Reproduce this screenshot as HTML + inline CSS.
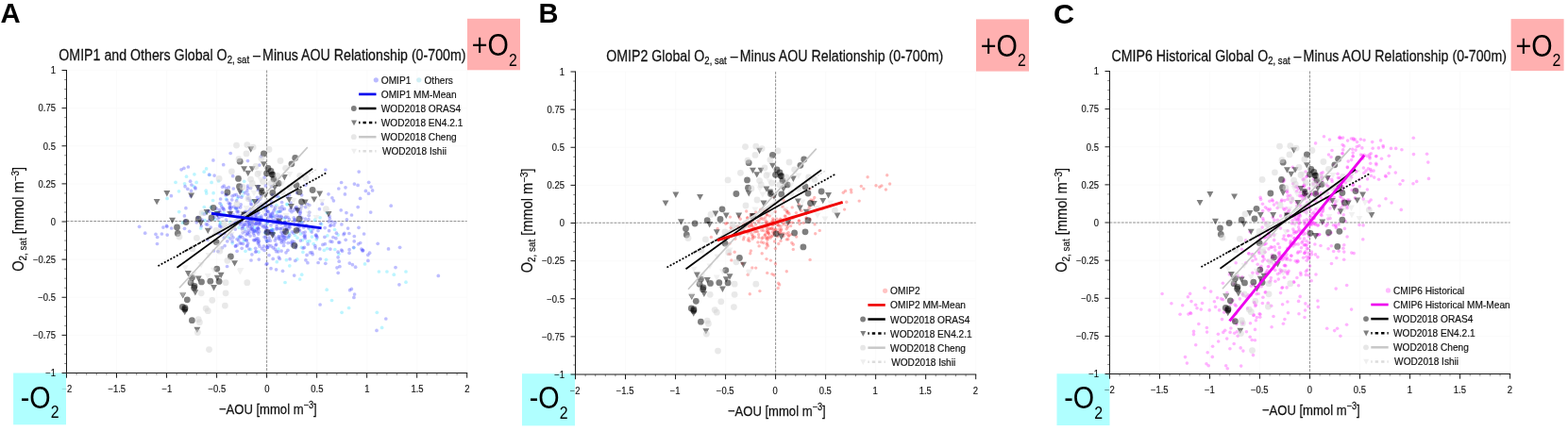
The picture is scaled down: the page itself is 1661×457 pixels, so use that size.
<!DOCTYPE html>
<html lang="en">
<head>
<meta charset="utf-8">
<title>O2,sat - Minus AOU Relationship (0-700m)</title>
<style>
html,body{margin:0;padding:0;background:#fff;}
body{width:1661px;height:457px;overflow:hidden;}
svg{display:block;font-family:"Liberation Sans", Arial, Helvetica, sans-serif;}
</style>
</head>
<body>
<svg width="1661" height="457" viewBox="0 0 1661 457">
<rect width="1661" height="457" fill="#fff"/>
<path d="M123.5 74.5V395.5M176.6 74.5V395.5M229.6 74.5V395.5M335.6 74.5V395.5M388.7 74.5V395.5M441.7 74.5V395.5M494.7 74.5V395.5M70.5 355.4H494.7M70.5 315.2H494.7M70.5 275.1H494.7M70.5 194.9H494.7M70.5 154.8H494.7M70.5 114.6H494.7M70.5 74.5H494.7" stroke="#f9f9f9" stroke-width="0.7" fill="none"/>
<path d="M70.50 234.55H494.70M282.60 74.50V395.50" stroke="#858585" stroke-width="0.9" stroke-dasharray="2.9 1.2" fill="none"/>
<rect x="495" y="19.8" width="56" height="54.5" fill="#ffb0b0"/>
<text transform="translate(523.8 59.4) scale(0.845 1)" font-size="34" fill="#000" text-anchor="middle">+O<tspan font-size="18.8" dy="10.2">2</tspan></text>
<rect x="14.1" y="395.5" width="55.9" height="54.8" fill="#b0ffff"/>
<text transform="translate(42.1 432.6) scale(0.845 1)" font-size="34" fill="#000" text-anchor="middle">-O<tspan font-size="18.8" dy="10.2">2</tspan></text>
<g fill="#5fe6ff" fill-opacity="0.42"><circle cx="295.9" cy="209.6" r="1.85"/><circle cx="312.5" cy="249.4" r="1.85"/><circle cx="306.2" cy="247.4" r="1.85"/><circle cx="281.1" cy="220.0" r="1.85"/><circle cx="330.4" cy="251.1" r="1.85"/><circle cx="217.1" cy="233.7" r="1.85"/><circle cx="282.9" cy="255.5" r="1.85"/><circle cx="374.8" cy="262.8" r="1.85"/><circle cx="233.5" cy="236.7" r="1.85"/><circle cx="346.8" cy="249.8" r="1.85"/><circle cx="276.7" cy="220.7" r="1.85"/><circle cx="243.7" cy="235.6" r="1.85"/><circle cx="260.0" cy="266.3" r="1.85"/><circle cx="236.9" cy="225.9" r="1.85"/><circle cx="239.5" cy="211.0" r="1.85"/><circle cx="288.3" cy="243.7" r="1.85"/><circle cx="306.8" cy="281.8" r="1.85"/><circle cx="283.1" cy="237.1" r="1.85"/><circle cx="319.4" cy="235.6" r="1.85"/><circle cx="275.0" cy="230.0" r="1.85"/><circle cx="303.4" cy="275.7" r="1.85"/><circle cx="250.1" cy="221.5" r="1.85"/><circle cx="281.2" cy="246.9" r="1.85"/><circle cx="287.9" cy="243.4" r="1.85"/><circle cx="293.3" cy="277.7" r="1.85"/><circle cx="246.2" cy="257.8" r="1.85"/><circle cx="289.7" cy="246.8" r="1.85"/><circle cx="265.4" cy="264.3" r="1.85"/><circle cx="234.3" cy="217.0" r="1.85"/><circle cx="251.5" cy="210.1" r="1.85"/><circle cx="302.0" cy="299.5" r="1.85"/><circle cx="267.7" cy="213.0" r="1.85"/><circle cx="233.7" cy="237.8" r="1.85"/><circle cx="281.5" cy="234.3" r="1.85"/><circle cx="343.4" cy="265.3" r="1.85"/><circle cx="303.9" cy="216.4" r="1.85"/><circle cx="304.4" cy="216.8" r="1.85"/><circle cx="274.0" cy="267.2" r="1.85"/><circle cx="193.5" cy="236.2" r="1.85"/><circle cx="257.4" cy="203.5" r="1.85"/><circle cx="295.0" cy="264.0" r="1.85"/><circle cx="238.8" cy="228.2" r="1.85"/><circle cx="320.9" cy="267.3" r="1.85"/><circle cx="293.4" cy="224.9" r="1.85"/><circle cx="289.1" cy="229.4" r="1.85"/><circle cx="218.2" cy="202.2" r="1.85"/><circle cx="226.1" cy="204.7" r="1.85"/><circle cx="339.1" cy="230.8" r="1.85"/><circle cx="264.9" cy="237.6" r="1.85"/><circle cx="314.8" cy="274.9" r="1.85"/><circle cx="318.5" cy="248.0" r="1.85"/><circle cx="319.5" cy="262.3" r="1.85"/><circle cx="301.3" cy="232.0" r="1.85"/><circle cx="288.0" cy="243.2" r="1.85"/><circle cx="227.6" cy="232.5" r="1.85"/><circle cx="253.2" cy="251.4" r="1.85"/><circle cx="265.3" cy="233.3" r="1.85"/><circle cx="270.0" cy="244.8" r="1.85"/><circle cx="315.0" cy="252.2" r="1.85"/><circle cx="296.4" cy="224.3" r="1.85"/><circle cx="241.6" cy="251.2" r="1.85"/><circle cx="253.2" cy="241.2" r="1.85"/><circle cx="259.4" cy="242.6" r="1.85"/><circle cx="333.6" cy="233.2" r="1.85"/><circle cx="258.4" cy="255.5" r="1.85"/><circle cx="346.5" cy="263.6" r="1.85"/><circle cx="320.5" cy="254.6" r="1.85"/><circle cx="256.8" cy="207.5" r="1.85"/><circle cx="292.9" cy="217.5" r="1.85"/><circle cx="233.4" cy="235.8" r="1.85"/><circle cx="340.6" cy="237.7" r="1.85"/><circle cx="258.7" cy="192.3" r="1.85"/><circle cx="225.6" cy="212.5" r="1.85"/><circle cx="212.8" cy="241.9" r="1.85"/><circle cx="269.5" cy="241.2" r="1.85"/><circle cx="189.5" cy="202.8" r="1.85"/><circle cx="231.6" cy="192.0" r="1.85"/><circle cx="208.1" cy="193.4" r="1.85"/><circle cx="216.2" cy="182.2" r="1.85"/><circle cx="205.9" cy="184.8" r="1.85"/><circle cx="230.5" cy="227.5" r="1.85"/><circle cx="195.6" cy="194.8" r="1.85"/><circle cx="177.1" cy="210.4" r="1.85"/><circle cx="229.3" cy="224.8" r="1.85"/><circle cx="218.7" cy="204.9" r="1.85"/><circle cx="222.1" cy="185.5" r="1.85"/><circle cx="189.7" cy="224.6" r="1.85"/><circle cx="216.3" cy="219.5" r="1.85"/><circle cx="224.1" cy="193.4" r="1.85"/><circle cx="218.6" cy="178.9" r="1.85"/><circle cx="214.5" cy="226.1" r="1.85"/><circle cx="218.2" cy="225.5" r="1.85"/><circle cx="186.0" cy="193.3" r="1.85"/><circle cx="205.2" cy="197.6" r="1.85"/><circle cx="197.5" cy="187.2" r="1.85"/><circle cx="223.4" cy="219.7" r="1.85"/><circle cx="335.3" cy="253.9" r="1.85"/><circle cx="354.8" cy="264.5" r="1.85"/><circle cx="328.1" cy="242.8" r="1.85"/><circle cx="329.2" cy="244.9" r="1.85"/><circle cx="305.9" cy="251.3" r="1.85"/><circle cx="354.6" cy="243.5" r="1.85"/><circle cx="332.2" cy="258.6" r="1.85"/><circle cx="327.9" cy="255.7" r="1.85"/><circle cx="345.5" cy="275.3" r="1.85"/><circle cx="358.1" cy="249.1" r="1.85"/><circle cx="358.9" cy="269.3" r="1.85"/><circle cx="325.6" cy="256.1" r="1.85"/><circle cx="401.4" cy="288.0" r="1.85"/><circle cx="409.9" cy="288.0" r="1.85"/><circle cx="417.3" cy="291.2" r="1.85"/><circle cx="430.0" cy="288.0" r="1.85"/><circle cx="430.0" cy="299.2" r="1.85"/><circle cx="346.2" cy="307.2" r="1.85"/><circle cx="351.5" cy="318.5" r="1.85"/><circle cx="362.1" cy="331.3" r="1.85"/><circle cx="369.6" cy="326.5" r="1.85"/><circle cx="399.3" cy="331.3" r="1.85"/><circle cx="404.6" cy="347.4" r="1.85"/><circle cx="319.7" cy="291.2" r="1.85"/><circle cx="317.6" cy="296.0" r="1.85"/><circle cx="386.5" cy="279.9" r="1.85"/><circle cx="346.2" cy="225.4" r="1.85"/></g>
<g fill="#4a4aff" fill-opacity="0.36"><circle cx="281.6" cy="214.7" r="1.85"/><circle cx="244.7" cy="238.2" r="1.85"/><circle cx="288.2" cy="248.0" r="1.85"/><circle cx="264.1" cy="234.8" r="1.85"/><circle cx="256.2" cy="263.3" r="1.85"/><circle cx="235.5" cy="229.3" r="1.85"/><circle cx="260.8" cy="235.4" r="1.85"/><circle cx="292.0" cy="232.1" r="1.85"/><circle cx="256.6" cy="235.6" r="1.85"/><circle cx="285.9" cy="227.0" r="1.85"/><circle cx="303.0" cy="267.8" r="1.85"/><circle cx="268.1" cy="246.0" r="1.85"/><circle cx="334.1" cy="262.8" r="1.85"/><circle cx="292.0" cy="260.0" r="1.85"/><circle cx="323.2" cy="246.1" r="1.85"/><circle cx="254.5" cy="235.7" r="1.85"/><circle cx="302.3" cy="235.7" r="1.85"/><circle cx="259.5" cy="237.9" r="1.85"/><circle cx="266.5" cy="216.8" r="1.85"/><circle cx="285.1" cy="252.1" r="1.85"/><circle cx="270.9" cy="231.2" r="1.85"/><circle cx="247.0" cy="251.8" r="1.85"/><circle cx="298.1" cy="255.4" r="1.85"/><circle cx="330.3" cy="246.1" r="1.85"/><circle cx="264.2" cy="246.3" r="1.85"/><circle cx="242.2" cy="215.2" r="1.85"/><circle cx="263.2" cy="226.9" r="1.85"/><circle cx="251.1" cy="253.5" r="1.85"/><circle cx="263.9" cy="223.6" r="1.85"/><circle cx="331.6" cy="242.7" r="1.85"/><circle cx="288.9" cy="226.0" r="1.85"/><circle cx="293.0" cy="240.4" r="1.85"/><circle cx="269.3" cy="249.8" r="1.85"/><circle cx="263.2" cy="235.4" r="1.85"/><circle cx="265.6" cy="243.0" r="1.85"/><circle cx="250.4" cy="220.7" r="1.85"/><circle cx="286.6" cy="228.1" r="1.85"/><circle cx="247.3" cy="200.0" r="1.85"/><circle cx="326.9" cy="232.6" r="1.85"/><circle cx="267.0" cy="236.1" r="1.85"/><circle cx="311.2" cy="222.9" r="1.85"/><circle cx="317.4" cy="235.9" r="1.85"/><circle cx="240.8" cy="255.8" r="1.85"/><circle cx="287.1" cy="260.9" r="1.85"/><circle cx="275.9" cy="210.9" r="1.85"/><circle cx="219.8" cy="254.2" r="1.85"/><circle cx="298.0" cy="229.4" r="1.85"/><circle cx="236.0" cy="220.6" r="1.85"/><circle cx="302.3" cy="237.1" r="1.85"/><circle cx="280.6" cy="240.9" r="1.85"/><circle cx="302.1" cy="235.6" r="1.85"/><circle cx="271.5" cy="237.0" r="1.85"/><circle cx="284.8" cy="260.0" r="1.85"/><circle cx="296.3" cy="220.5" r="1.85"/><circle cx="283.7" cy="262.4" r="1.85"/><circle cx="243.2" cy="220.4" r="1.85"/><circle cx="220.3" cy="223.3" r="1.85"/><circle cx="291.4" cy="264.2" r="1.85"/><circle cx="246.7" cy="186.7" r="1.85"/><circle cx="302.9" cy="253.2" r="1.85"/><circle cx="262.1" cy="247.4" r="1.85"/><circle cx="287.7" cy="244.9" r="1.85"/><circle cx="276.7" cy="218.1" r="1.85"/><circle cx="281.3" cy="222.1" r="1.85"/><circle cx="293.0" cy="234.6" r="1.85"/><circle cx="339.3" cy="274.6" r="1.85"/><circle cx="256.8" cy="242.2" r="1.85"/><circle cx="264.7" cy="224.8" r="1.85"/><circle cx="243.9" cy="215.8" r="1.85"/><circle cx="251.2" cy="232.9" r="1.85"/><circle cx="299.3" cy="253.8" r="1.85"/><circle cx="292.7" cy="259.1" r="1.85"/><circle cx="296.0" cy="242.3" r="1.85"/><circle cx="272.8" cy="241.4" r="1.85"/><circle cx="335.4" cy="250.5" r="1.85"/><circle cx="275.7" cy="218.1" r="1.85"/><circle cx="262.9" cy="244.5" r="1.85"/><circle cx="304.3" cy="208.7" r="1.85"/><circle cx="261.7" cy="202.4" r="1.85"/><circle cx="218.3" cy="237.7" r="1.85"/><circle cx="270.2" cy="227.4" r="1.85"/><circle cx="265.3" cy="225.0" r="1.85"/><circle cx="275.0" cy="233.3" r="1.85"/><circle cx="323.2" cy="249.5" r="1.85"/><circle cx="302.1" cy="240.0" r="1.85"/><circle cx="294.8" cy="230.1" r="1.85"/><circle cx="257.5" cy="227.2" r="1.85"/><circle cx="271.6" cy="233.9" r="1.85"/><circle cx="293.0" cy="242.9" r="1.85"/><circle cx="295.3" cy="234.1" r="1.85"/><circle cx="281.0" cy="227.7" r="1.85"/><circle cx="319.9" cy="231.0" r="1.85"/><circle cx="301.1" cy="254.3" r="1.85"/><circle cx="285.2" cy="247.9" r="1.85"/><circle cx="271.3" cy="245.1" r="1.85"/><circle cx="309.7" cy="258.0" r="1.85"/><circle cx="243.0" cy="228.5" r="1.85"/><circle cx="313.9" cy="244.5" r="1.85"/><circle cx="327.8" cy="217.5" r="1.85"/><circle cx="324.8" cy="239.0" r="1.85"/><circle cx="262.7" cy="258.0" r="1.85"/><circle cx="273.5" cy="219.1" r="1.85"/><circle cx="267.5" cy="230.2" r="1.85"/><circle cx="253.6" cy="228.9" r="1.85"/><circle cx="270.7" cy="237.4" r="1.85"/><circle cx="260.9" cy="249.0" r="1.85"/><circle cx="257.1" cy="240.8" r="1.85"/><circle cx="312.2" cy="238.1" r="1.85"/><circle cx="233.6" cy="211.0" r="1.85"/><circle cx="296.3" cy="229.1" r="1.85"/><circle cx="293.3" cy="242.3" r="1.85"/><circle cx="274.3" cy="275.1" r="1.85"/><circle cx="273.4" cy="253.2" r="1.85"/><circle cx="298.1" cy="266.1" r="1.85"/><circle cx="322.4" cy="262.4" r="1.85"/><circle cx="259.5" cy="204.7" r="1.85"/><circle cx="282.9" cy="219.5" r="1.85"/><circle cx="285.0" cy="270.6" r="1.85"/><circle cx="276.9" cy="229.1" r="1.85"/><circle cx="293.2" cy="235.1" r="1.85"/><circle cx="262.8" cy="248.1" r="1.85"/><circle cx="322.4" cy="250.2" r="1.85"/><circle cx="286.0" cy="244.5" r="1.85"/><circle cx="255.0" cy="202.8" r="1.85"/><circle cx="293.5" cy="228.4" r="1.85"/><circle cx="254.7" cy="219.8" r="1.85"/><circle cx="249.9" cy="237.3" r="1.85"/><circle cx="262.5" cy="199.4" r="1.85"/><circle cx="256.5" cy="242.7" r="1.85"/><circle cx="265.1" cy="212.8" r="1.85"/><circle cx="269.0" cy="244.4" r="1.85"/><circle cx="234.4" cy="248.5" r="1.85"/><circle cx="266.1" cy="234.5" r="1.85"/><circle cx="316.5" cy="224.7" r="1.85"/><circle cx="268.7" cy="254.5" r="1.85"/><circle cx="262.6" cy="240.8" r="1.85"/><circle cx="333.8" cy="260.6" r="1.85"/><circle cx="273.9" cy="225.3" r="1.85"/><circle cx="275.8" cy="235.6" r="1.85"/><circle cx="266.7" cy="238.0" r="1.85"/><circle cx="247.1" cy="227.6" r="1.85"/><circle cx="272.9" cy="226.6" r="1.85"/><circle cx="309.6" cy="255.7" r="1.85"/><circle cx="237.3" cy="222.4" r="1.85"/><circle cx="289.1" cy="233.5" r="1.85"/><circle cx="294.7" cy="235.8" r="1.85"/><circle cx="299.9" cy="237.0" r="1.85"/><circle cx="327.7" cy="225.2" r="1.85"/><circle cx="292.7" cy="266.7" r="1.85"/><circle cx="286.3" cy="244.9" r="1.85"/><circle cx="274.3" cy="255.4" r="1.85"/><circle cx="274.8" cy="175.1" r="1.85"/><circle cx="317.6" cy="239.8" r="1.85"/><circle cx="289.7" cy="236.2" r="1.85"/><circle cx="330.5" cy="267.7" r="1.85"/><circle cx="267.3" cy="235.2" r="1.85"/><circle cx="232.6" cy="238.9" r="1.85"/><circle cx="280.1" cy="188.2" r="1.85"/><circle cx="301.0" cy="257.1" r="1.85"/><circle cx="281.4" cy="238.4" r="1.85"/><circle cx="256.5" cy="230.0" r="1.85"/><circle cx="302.4" cy="238.6" r="1.85"/><circle cx="207.0" cy="200.0" r="1.85"/><circle cx="359.8" cy="257.0" r="1.85"/><circle cx="306.5" cy="232.6" r="1.85"/><circle cx="288.5" cy="206.5" r="1.85"/><circle cx="255.2" cy="216.9" r="1.85"/><circle cx="275.1" cy="236.9" r="1.85"/><circle cx="272.8" cy="213.9" r="1.85"/><circle cx="264.7" cy="239.9" r="1.85"/><circle cx="244.3" cy="226.3" r="1.85"/><circle cx="281.5" cy="251.0" r="1.85"/><circle cx="295.7" cy="251.4" r="1.85"/><circle cx="361.9" cy="237.9" r="1.85"/><circle cx="263.9" cy="237.4" r="1.85"/><circle cx="251.3" cy="223.7" r="1.85"/><circle cx="266.0" cy="276.0" r="1.85"/><circle cx="288.0" cy="230.1" r="1.85"/><circle cx="237.3" cy="197.0" r="1.85"/><circle cx="237.9" cy="247.7" r="1.85"/><circle cx="344.2" cy="241.6" r="1.85"/><circle cx="281.2" cy="221.3" r="1.85"/><circle cx="284.4" cy="234.6" r="1.85"/><circle cx="324.1" cy="239.3" r="1.85"/><circle cx="293.7" cy="234.4" r="1.85"/><circle cx="267.2" cy="236.5" r="1.85"/><circle cx="271.4" cy="235.7" r="1.85"/><circle cx="259.6" cy="224.4" r="1.85"/><circle cx="295.2" cy="250.5" r="1.85"/><circle cx="230.5" cy="228.3" r="1.85"/><circle cx="252.7" cy="224.7" r="1.85"/><circle cx="295.4" cy="253.3" r="1.85"/><circle cx="277.4" cy="232.4" r="1.85"/><circle cx="260.9" cy="254.5" r="1.85"/><circle cx="297.3" cy="242.7" r="1.85"/><circle cx="231.0" cy="266.5" r="1.85"/><circle cx="267.1" cy="243.6" r="1.85"/><circle cx="267.4" cy="242.9" r="1.85"/><circle cx="272.5" cy="209.3" r="1.85"/><circle cx="271.0" cy="228.0" r="1.85"/><circle cx="268.6" cy="247.5" r="1.85"/><circle cx="264.6" cy="237.5" r="1.85"/><circle cx="303.6" cy="243.1" r="1.85"/><circle cx="288.2" cy="226.4" r="1.85"/><circle cx="280.9" cy="246.4" r="1.85"/><circle cx="240.4" cy="212.0" r="1.85"/><circle cx="245.1" cy="219.5" r="1.85"/><circle cx="283.0" cy="245.0" r="1.85"/><circle cx="290.0" cy="223.5" r="1.85"/><circle cx="275.0" cy="261.2" r="1.85"/><circle cx="279.4" cy="261.1" r="1.85"/><circle cx="273.9" cy="256.3" r="1.85"/><circle cx="316.8" cy="243.3" r="1.85"/><circle cx="280.1" cy="265.4" r="1.85"/><circle cx="262.5" cy="197.0" r="1.85"/><circle cx="325.7" cy="216.5" r="1.85"/><circle cx="299.4" cy="249.8" r="1.85"/><circle cx="283.3" cy="262.4" r="1.85"/><circle cx="244.1" cy="221.2" r="1.85"/><circle cx="301.5" cy="246.7" r="1.85"/><circle cx="323.3" cy="252.6" r="1.85"/><circle cx="251.0" cy="259.9" r="1.85"/><circle cx="293.2" cy="237.7" r="1.85"/><circle cx="252.6" cy="208.6" r="1.85"/><circle cx="292.4" cy="252.5" r="1.85"/><circle cx="267.0" cy="240.6" r="1.85"/><circle cx="291.0" cy="221.5" r="1.85"/><circle cx="232.6" cy="222.5" r="1.85"/><circle cx="286.9" cy="229.2" r="1.85"/><circle cx="334.4" cy="249.4" r="1.85"/><circle cx="314.5" cy="204.5" r="1.85"/><circle cx="260.1" cy="230.6" r="1.85"/><circle cx="282.1" cy="280.2" r="1.85"/><circle cx="262.7" cy="206.1" r="1.85"/><circle cx="302.4" cy="230.6" r="1.85"/><circle cx="257.4" cy="258.5" r="1.85"/><circle cx="255.8" cy="209.2" r="1.85"/><circle cx="273.8" cy="237.0" r="1.85"/><circle cx="255.5" cy="258.0" r="1.85"/><circle cx="279.5" cy="219.4" r="1.85"/><circle cx="317.6" cy="228.7" r="1.85"/><circle cx="289.2" cy="274.4" r="1.85"/><circle cx="282.0" cy="254.1" r="1.85"/><circle cx="269.5" cy="254.8" r="1.85"/><circle cx="249.3" cy="243.1" r="1.85"/><circle cx="269.4" cy="245.0" r="1.85"/><circle cx="291.6" cy="219.7" r="1.85"/><circle cx="273.7" cy="242.6" r="1.85"/><circle cx="318.1" cy="226.0" r="1.85"/><circle cx="259.0" cy="238.3" r="1.85"/><circle cx="271.9" cy="252.9" r="1.85"/><circle cx="308.2" cy="257.4" r="1.85"/><circle cx="270.8" cy="230.3" r="1.85"/><circle cx="302.9" cy="229.8" r="1.85"/><circle cx="258.3" cy="229.7" r="1.85"/><circle cx="250.3" cy="235.7" r="1.85"/><circle cx="284.5" cy="230.3" r="1.85"/><circle cx="282.7" cy="224.5" r="1.85"/><circle cx="318.5" cy="221.6" r="1.85"/><circle cx="302.6" cy="245.0" r="1.85"/><circle cx="320.8" cy="236.0" r="1.85"/><circle cx="245.7" cy="211.8" r="1.85"/><circle cx="254.2" cy="258.0" r="1.85"/><circle cx="302.1" cy="249.9" r="1.85"/><circle cx="309.0" cy="224.7" r="1.85"/><circle cx="275.2" cy="236.7" r="1.85"/><circle cx="265.0" cy="250.1" r="1.85"/><circle cx="305.1" cy="257.6" r="1.85"/><circle cx="266.8" cy="228.7" r="1.85"/><circle cx="265.6" cy="216.0" r="1.85"/><circle cx="318.4" cy="255.1" r="1.85"/><circle cx="274.1" cy="258.8" r="1.85"/><circle cx="297.3" cy="224.0" r="1.85"/><circle cx="250.6" cy="212.8" r="1.85"/><circle cx="278.9" cy="240.6" r="1.85"/><circle cx="249.0" cy="236.9" r="1.85"/><circle cx="272.9" cy="213.4" r="1.85"/><circle cx="290.0" cy="249.8" r="1.85"/><circle cx="281.7" cy="227.6" r="1.85"/><circle cx="266.9" cy="231.8" r="1.85"/><circle cx="262.1" cy="260.4" r="1.85"/><circle cx="305.3" cy="240.0" r="1.85"/><circle cx="304.9" cy="265.3" r="1.85"/><circle cx="313.6" cy="260.1" r="1.85"/><circle cx="284.0" cy="255.4" r="1.85"/><circle cx="276.4" cy="207.9" r="1.85"/><circle cx="286.7" cy="217.3" r="1.85"/><circle cx="270.5" cy="254.1" r="1.85"/><circle cx="286.3" cy="255.2" r="1.85"/><circle cx="256.7" cy="251.7" r="1.85"/><circle cx="243.6" cy="219.6" r="1.85"/><circle cx="339.5" cy="237.0" r="1.85"/><circle cx="234.8" cy="240.8" r="1.85"/><circle cx="249.5" cy="261.0" r="1.85"/><circle cx="270.7" cy="263.3" r="1.85"/><circle cx="263.9" cy="264.0" r="1.85"/><circle cx="356.4" cy="247.2" r="1.85"/><circle cx="214.1" cy="233.0" r="1.85"/><circle cx="256.9" cy="230.4" r="1.85"/><circle cx="290.7" cy="229.2" r="1.85"/><circle cx="231.6" cy="247.6" r="1.85"/><circle cx="264.9" cy="228.2" r="1.85"/><circle cx="323.7" cy="219.6" r="1.85"/><circle cx="223.3" cy="241.0" r="1.85"/><circle cx="230.9" cy="225.7" r="1.85"/><circle cx="287.5" cy="213.6" r="1.85"/><circle cx="274.5" cy="230.7" r="1.85"/><circle cx="239.1" cy="206.7" r="1.85"/><circle cx="252.7" cy="255.0" r="1.85"/><circle cx="327.2" cy="228.6" r="1.85"/><circle cx="307.2" cy="240.7" r="1.85"/><circle cx="310.9" cy="247.1" r="1.85"/><circle cx="319.6" cy="218.4" r="1.85"/><circle cx="309.4" cy="245.8" r="1.85"/><circle cx="287.8" cy="218.6" r="1.85"/><circle cx="321.0" cy="246.8" r="1.85"/><circle cx="287.3" cy="229.9" r="1.85"/><circle cx="266.3" cy="242.1" r="1.85"/><circle cx="273.0" cy="242.1" r="1.85"/><circle cx="266.9" cy="236.2" r="1.85"/><circle cx="299.2" cy="241.9" r="1.85"/><circle cx="273.6" cy="197.7" r="1.85"/><circle cx="295.0" cy="235.4" r="1.85"/><circle cx="235.4" cy="262.7" r="1.85"/><circle cx="328.5" cy="267.9" r="1.85"/><circle cx="287.6" cy="197.8" r="1.85"/><circle cx="271.2" cy="215.0" r="1.85"/><circle cx="283.0" cy="279.5" r="1.85"/><circle cx="348.2" cy="234.9" r="1.85"/><circle cx="273.2" cy="257.7" r="1.85"/><circle cx="246.1" cy="255.9" r="1.85"/><circle cx="250.3" cy="206.4" r="1.85"/><circle cx="300.6" cy="260.5" r="1.85"/><circle cx="254.6" cy="250.3" r="1.85"/><circle cx="254.0" cy="251.8" r="1.85"/><circle cx="257.5" cy="230.8" r="1.85"/><circle cx="291.4" cy="254.9" r="1.85"/><circle cx="270.7" cy="267.2" r="1.85"/><circle cx="287.7" cy="245.7" r="1.85"/><circle cx="259.1" cy="253.9" r="1.85"/><circle cx="231.0" cy="231.9" r="1.85"/><circle cx="315.2" cy="221.6" r="1.85"/><circle cx="232.6" cy="230.2" r="1.85"/><circle cx="306.0" cy="242.7" r="1.85"/><circle cx="299.7" cy="246.9" r="1.85"/><circle cx="236.5" cy="221.3" r="1.85"/><circle cx="276.9" cy="230.8" r="1.85"/><circle cx="283.5" cy="223.9" r="1.85"/><circle cx="254.8" cy="238.1" r="1.85"/><circle cx="281.3" cy="196.9" r="1.85"/><circle cx="268.1" cy="237.9" r="1.85"/><circle cx="221.9" cy="224.5" r="1.85"/><circle cx="312.9" cy="233.1" r="1.85"/><circle cx="305.4" cy="251.2" r="1.85"/><circle cx="271.0" cy="237.5" r="1.85"/><circle cx="301.4" cy="251.3" r="1.85"/><circle cx="299.3" cy="221.8" r="1.85"/><circle cx="300.2" cy="251.3" r="1.85"/><circle cx="221.3" cy="233.9" r="1.85"/><circle cx="240.0" cy="206.4" r="1.85"/><circle cx="282.6" cy="261.8" r="1.85"/><circle cx="268.6" cy="223.5" r="1.85"/><circle cx="252.9" cy="230.2" r="1.85"/><circle cx="248.2" cy="206.9" r="1.85"/><circle cx="312.9" cy="220.3" r="1.85"/><circle cx="274.6" cy="245.7" r="1.85"/><circle cx="292.5" cy="208.4" r="1.85"/><circle cx="249.5" cy="260.9" r="1.85"/><circle cx="277.9" cy="239.2" r="1.85"/><circle cx="284.7" cy="247.0" r="1.85"/><circle cx="323.5" cy="232.2" r="1.85"/><circle cx="306.8" cy="249.4" r="1.85"/><circle cx="296.6" cy="253.2" r="1.85"/><circle cx="259.8" cy="226.4" r="1.85"/><circle cx="298.3" cy="257.2" r="1.85"/><circle cx="295.4" cy="224.3" r="1.85"/><circle cx="277.2" cy="232.8" r="1.85"/><circle cx="289.5" cy="243.7" r="1.85"/><circle cx="271.4" cy="266.5" r="1.85"/><circle cx="233.2" cy="240.4" r="1.85"/><circle cx="298.8" cy="218.8" r="1.85"/><circle cx="274.2" cy="235.3" r="1.85"/><circle cx="294.7" cy="266.8" r="1.85"/><circle cx="277.1" cy="216.5" r="1.85"/><circle cx="308.3" cy="220.5" r="1.85"/><circle cx="311.6" cy="256.5" r="1.85"/><circle cx="266.0" cy="234.3" r="1.85"/><circle cx="259.6" cy="245.4" r="1.85"/><circle cx="307.1" cy="274.7" r="1.85"/><circle cx="313.2" cy="262.7" r="1.85"/><circle cx="321.8" cy="241.2" r="1.85"/><circle cx="296.3" cy="274.4" r="1.85"/><circle cx="208.2" cy="235.8" r="1.85"/><circle cx="318.3" cy="224.7" r="1.85"/><circle cx="245.4" cy="249.2" r="1.85"/><circle cx="321.1" cy="263.1" r="1.85"/><circle cx="247.7" cy="235.5" r="1.85"/><circle cx="303.6" cy="242.9" r="1.85"/><circle cx="243.9" cy="252.9" r="1.85"/><circle cx="289.3" cy="262.7" r="1.85"/><circle cx="227.1" cy="230.0" r="1.85"/><circle cx="240.6" cy="282.5" r="1.85"/><circle cx="266.9" cy="269.8" r="1.85"/><circle cx="370.3" cy="279.1" r="1.85"/><circle cx="311.7" cy="232.8" r="1.85"/><circle cx="244.0" cy="224.2" r="1.85"/><circle cx="349.7" cy="239.5" r="1.85"/><circle cx="298.6" cy="214.5" r="1.85"/><circle cx="339.1" cy="323.0" r="1.85"/><circle cx="323.8" cy="196.3" r="1.85"/><circle cx="257.6" cy="238.9" r="1.85"/><circle cx="233.0" cy="215.5" r="1.85"/><circle cx="257.2" cy="246.8" r="1.85"/><circle cx="283.6" cy="235.3" r="1.85"/><circle cx="325.9" cy="278.7" r="1.85"/><circle cx="281.6" cy="215.6" r="1.85"/><circle cx="248.0" cy="219.4" r="1.85"/><circle cx="262.5" cy="170.6" r="1.85"/><circle cx="274.1" cy="212.0" r="1.85"/><circle cx="273.8" cy="211.8" r="1.85"/><circle cx="181.4" cy="207.7" r="1.85"/><circle cx="265.1" cy="233.6" r="1.85"/><circle cx="367.4" cy="232.8" r="1.85"/><circle cx="299.5" cy="287.3" r="1.85"/><circle cx="292.6" cy="285.8" r="1.85"/><circle cx="351.8" cy="256.4" r="1.85"/><circle cx="349.0" cy="229.3" r="1.85"/><circle cx="381.7" cy="257.5" r="1.85"/><circle cx="255.8" cy="196.9" r="1.85"/><circle cx="229.4" cy="221.2" r="1.85"/><circle cx="282.1" cy="241.3" r="1.85"/><circle cx="213.3" cy="239.5" r="1.85"/><circle cx="254.0" cy="235.3" r="1.85"/><circle cx="271.3" cy="243.7" r="1.85"/><circle cx="271.9" cy="230.3" r="1.85"/><circle cx="249.7" cy="220.6" r="1.85"/><circle cx="262.8" cy="210.4" r="1.85"/><circle cx="382.9" cy="264.0" r="1.85"/><circle cx="366.2" cy="254.3" r="1.85"/><circle cx="359.9" cy="282.6" r="1.85"/><circle cx="294.6" cy="207.8" r="1.85"/><circle cx="251.2" cy="224.8" r="1.85"/><circle cx="195.5" cy="242.3" r="1.85"/><circle cx="419.0" cy="283.6" r="1.85"/><circle cx="308.0" cy="215.0" r="1.85"/><circle cx="147.6" cy="240.3" r="1.85"/><circle cx="234.7" cy="218.9" r="1.85"/><circle cx="317.5" cy="244.8" r="1.85"/><circle cx="375.3" cy="250.5" r="1.85"/><circle cx="294.9" cy="234.5" r="1.85"/><circle cx="261.4" cy="261.1" r="1.85"/><circle cx="200.7" cy="245.3" r="1.85"/><circle cx="226.4" cy="266.0" r="1.85"/><circle cx="261.3" cy="255.1" r="1.85"/><circle cx="282.6" cy="256.1" r="1.85"/><circle cx="422.9" cy="301.8" r="1.85"/><circle cx="284.2" cy="224.5" r="1.85"/><circle cx="374.9" cy="315.4" r="1.85"/><circle cx="341.9" cy="259.4" r="1.85"/><circle cx="325.1" cy="270.4" r="1.85"/><circle cx="235.4" cy="204.1" r="1.85"/><circle cx="237.4" cy="252.2" r="1.85"/><circle cx="281.6" cy="244.4" r="1.85"/><circle cx="380.0" cy="241.3" r="1.85"/><circle cx="280.1" cy="251.3" r="1.85"/><circle cx="198.8" cy="200.3" r="1.85"/><circle cx="235.7" cy="198.3" r="1.85"/><circle cx="238.1" cy="260.6" r="1.85"/><circle cx="314.3" cy="222.3" r="1.85"/><circle cx="336.0" cy="251.8" r="1.85"/><circle cx="265.5" cy="199.5" r="1.85"/><circle cx="206.8" cy="198.8" r="1.85"/><circle cx="301.3" cy="221.4" r="1.85"/><circle cx="253.1" cy="236.7" r="1.85"/><circle cx="202.0" cy="207.8" r="1.85"/><circle cx="338.4" cy="221.7" r="1.85"/><circle cx="304.9" cy="230.4" r="1.85"/><circle cx="384.0" cy="265.0" r="1.85"/><circle cx="344.8" cy="279.3" r="1.85"/><circle cx="414.2" cy="218.2" r="1.85"/><circle cx="297.4" cy="237.5" r="1.85"/><circle cx="216.5" cy="226.9" r="1.85"/><circle cx="251.1" cy="266.3" r="1.85"/><circle cx="273.7" cy="248.1" r="1.85"/><circle cx="256.0" cy="228.9" r="1.85"/><circle cx="370.6" cy="307.7" r="1.85"/><circle cx="353.8" cy="238.8" r="1.85"/><circle cx="261.4" cy="224.7" r="1.85"/><circle cx="408.8" cy="338.0" r="1.85"/><circle cx="326.2" cy="258.9" r="1.85"/><circle cx="326.8" cy="241.8" r="1.85"/><circle cx="295.3" cy="272.8" r="1.85"/><circle cx="343.9" cy="251.3" r="1.85"/><circle cx="282.8" cy="241.9" r="1.85"/><circle cx="277.5" cy="263.7" r="1.85"/><circle cx="311.9" cy="234.1" r="1.85"/><circle cx="251.3" cy="236.4" r="1.85"/><circle cx="262.8" cy="233.9" r="1.85"/><circle cx="399.0" cy="350.4" r="1.85"/><circle cx="287.0" cy="284.7" r="1.85"/><circle cx="372.5" cy="228.0" r="1.85"/><circle cx="464.3" cy="292.4" r="1.85"/><circle cx="233.1" cy="224.5" r="1.85"/><circle cx="239.6" cy="233.0" r="1.85"/><circle cx="375.2" cy="255.8" r="1.85"/><circle cx="196.9" cy="220.7" r="1.85"/><circle cx="219.8" cy="238.2" r="1.85"/><circle cx="366.9" cy="225.6" r="1.85"/><circle cx="192.1" cy="179.8" r="1.85"/><circle cx="312.8" cy="276.4" r="1.85"/><circle cx="361.7" cy="265.0" r="1.85"/><circle cx="252.2" cy="220.0" r="1.85"/><circle cx="379.6" cy="258.8" r="1.85"/><circle cx="287.0" cy="238.9" r="1.85"/><circle cx="288.9" cy="246.7" r="1.85"/><circle cx="250.5" cy="229.2" r="1.85"/><circle cx="271.8" cy="254.8" r="1.85"/><circle cx="262.4" cy="238.3" r="1.85"/><circle cx="423.6" cy="262.3" r="1.85"/><circle cx="307.1" cy="222.9" r="1.85"/><circle cx="298.0" cy="246.3" r="1.85"/><circle cx="274.4" cy="238.4" r="1.85"/><circle cx="311.7" cy="292.1" r="1.85"/><circle cx="166.7" cy="251.5" r="1.85"/><circle cx="311.3" cy="230.8" r="1.85"/><circle cx="265.2" cy="221.7" r="1.85"/><circle cx="242.3" cy="198.7" r="1.85"/><circle cx="276.5" cy="165.9" r="1.85"/><circle cx="352.9" cy="251.5" r="1.85"/><circle cx="309.4" cy="260.3" r="1.85"/><circle cx="273.4" cy="201.4" r="1.85"/><circle cx="331.2" cy="269.7" r="1.85"/><circle cx="243.3" cy="216.9" r="1.85"/><circle cx="272.5" cy="245.9" r="1.85"/><circle cx="273.8" cy="242.4" r="1.85"/><circle cx="374.7" cy="262.3" r="1.85"/><circle cx="298.4" cy="249.8" r="1.85"/><circle cx="319.6" cy="206.8" r="1.85"/><circle cx="246.1" cy="207.8" r="1.85"/><circle cx="323.9" cy="275.8" r="1.85"/><circle cx="306.5" cy="239.8" r="1.85"/><circle cx="365.4" cy="205.9" r="1.85"/><circle cx="393.1" cy="198.1" r="1.85"/><circle cx="351.9" cy="209.8" r="1.85"/><circle cx="358.8" cy="200.0" r="1.85"/><circle cx="348.0" cy="205.8" r="1.85"/><circle cx="387.4" cy="202.4" r="1.85"/><circle cx="353.4" cy="212.8" r="1.85"/><circle cx="375.4" cy="195.1" r="1.85"/><circle cx="390.5" cy="205.2" r="1.85"/><circle cx="344.8" cy="180.0" r="1.85"/><circle cx="379.1" cy="196.4" r="1.85"/><circle cx="379.2" cy="219.6" r="1.85"/><circle cx="366.0" cy="198.8" r="1.85"/><circle cx="394.6" cy="201.9" r="1.85"/><circle cx="306.6" cy="206.8" r="1.85"/><circle cx="380.2" cy="182.1" r="1.85"/><circle cx="392.7" cy="225.1" r="1.85"/><circle cx="390.7" cy="193.3" r="1.85"/><circle cx="361.6" cy="193.5" r="1.85"/><circle cx="381.6" cy="210.4" r="1.85"/><circle cx="209.7" cy="230.6" r="1.85"/><circle cx="153.7" cy="247.2" r="1.85"/><circle cx="176.5" cy="239.3" r="1.85"/><circle cx="166.5" cy="258.5" r="1.85"/><circle cx="181.7" cy="242.0" r="1.85"/><circle cx="171.4" cy="248.0" r="1.85"/><circle cx="176.8" cy="240.3" r="1.85"/><circle cx="177.2" cy="249.1" r="1.85"/><circle cx="195.4" cy="228.9" r="1.85"/><circle cx="165.0" cy="248.3" r="1.85"/><circle cx="196.4" cy="234.1" r="1.85"/><circle cx="172.9" cy="241.1" r="1.85"/><circle cx="202.9" cy="196.0" r="1.85"/><circle cx="194.9" cy="178.4" r="1.85"/><circle cx="236.7" cy="174.7" r="1.85"/><circle cx="196.1" cy="197.7" r="1.85"/><circle cx="225.9" cy="169.9" r="1.85"/><circle cx="221.6" cy="185.2" r="1.85"/><circle cx="244.2" cy="162.5" r="1.85"/><circle cx="202.5" cy="202.4" r="1.85"/><circle cx="239.5" cy="199.6" r="1.85"/><circle cx="199.4" cy="177.0" r="1.85"/><circle cx="201.6" cy="192.2" r="1.85"/><circle cx="227.1" cy="186.1" r="1.85"/><circle cx="358.7" cy="257.1" r="1.85"/><circle cx="349.9" cy="255.9" r="1.85"/><circle cx="337.1" cy="278.5" r="1.85"/><circle cx="357.0" cy="283.8" r="1.85"/><circle cx="369.9" cy="247.5" r="1.85"/><circle cx="355.9" cy="252.7" r="1.85"/><circle cx="361.2" cy="222.8" r="1.85"/><circle cx="385.6" cy="248.0" r="1.85"/><circle cx="389.9" cy="276.4" r="1.85"/><circle cx="349.9" cy="264.1" r="1.85"/><circle cx="354.9" cy="236.0" r="1.85"/><circle cx="384.0" cy="265.9" r="1.85"/><circle cx="358.2" cy="289.3" r="1.85"/><circle cx="358.1" cy="267.2" r="1.85"/><circle cx="322.7" cy="251.2" r="1.85"/><circle cx="315.7" cy="241.2" r="1.85"/><circle cx="314.2" cy="219.7" r="1.85"/><circle cx="349.4" cy="231.8" r="1.85"/><circle cx="341.3" cy="216.2" r="1.85"/><circle cx="315.6" cy="237.5" r="1.85"/><circle cx="375.6" cy="312.0" r="1.85"/><circle cx="368.6" cy="242.1" r="1.85"/><circle cx="348.6" cy="244.7" r="1.85"/><circle cx="362.5" cy="266.2" r="1.85"/><circle cx="364.8" cy="247.4" r="1.85"/><circle cx="400.2" cy="258.3" r="1.85"/><circle cx="389.8" cy="270.3" r="1.85"/><circle cx="370.1" cy="264.7" r="1.85"/><circle cx="376.6" cy="283.2" r="1.85"/><circle cx="358.1" cy="272.8" r="1.85"/><circle cx="298.7" cy="230.6" r="1.85"/><circle cx="370.0" cy="268.3" r="1.85"/><circle cx="372.4" cy="306.4" r="1.85"/><circle cx="364.0" cy="248.7" r="1.85"/><circle cx="391.6" cy="268.2" r="1.85"/><circle cx="384.7" cy="265.6" r="1.85"/><circle cx="350.5" cy="238.7" r="1.85"/><circle cx="344.3" cy="258.7" r="1.85"/><circle cx="335.0" cy="249.2" r="1.85"/><circle cx="351.6" cy="235.0" r="1.85"/><circle cx="359.2" cy="277.2" r="1.85"/><circle cx="338.7" cy="263.9" r="1.85"/><circle cx="373.4" cy="280.7" r="1.85"/><circle cx="337.0" cy="244.6" r="1.85"/><circle cx="411.5" cy="263.9" r="1.85"/></g>
<g fill="#000" fill-opacity="0.5"><circle cx="279.4" cy="162.9" r="3.4"/><circle cx="254.2" cy="171.2" r="3.4"/><circle cx="252.5" cy="189.4" r="3.4"/><circle cx="253.5" cy="197.7" r="3.4"/><circle cx="240.9" cy="204.0" r="3.4"/><circle cx="226.0" cy="220.3" r="3.4"/><circle cx="210.2" cy="232.2" r="3.4"/><circle cx="224.0" cy="230.9" r="3.4"/><circle cx="197.1" cy="235.5" r="3.4"/><circle cx="187.5" cy="241.0" r="3.4"/><circle cx="188.3" cy="247.5" r="3.4"/><circle cx="283.2" cy="246.3" r="3.4"/><circle cx="288.2" cy="185.1" r="3.4"/><circle cx="312.7" cy="167.5" r="3.4"/><circle cx="308.9" cy="173.8" r="3.4"/><circle cx="282.5" cy="183.8" r="3.4"/><circle cx="288.8" cy="185.1" r="3.4"/><circle cx="290.0" cy="190.1" r="3.4"/><circle cx="295.1" cy="194.4" r="3.4"/><circle cx="277.4" cy="204.0" r="3.4"/><circle cx="288.8" cy="204.5" r="3.4"/><circle cx="314.0" cy="196.4" r="3.4"/><circle cx="317.0" cy="203.5" r="3.4"/><circle cx="331.1" cy="201.5" r="3.4"/><circle cx="319.5" cy="214.0" r="3.4"/><circle cx="317.0" cy="232.2" r="3.4"/><circle cx="258.6" cy="227.9" r="3.4"/><circle cx="302.6" cy="245.5" r="3.4"/><circle cx="314.0" cy="244.3" r="3.4"/><circle cx="311.9" cy="260.4" r="3.4"/><circle cx="229.1" cy="256.6" r="3.4"/><circle cx="244.4" cy="272.0" r="3.4"/><circle cx="229.8" cy="285.1" r="3.4"/><circle cx="203.4" cy="294.4" r="3.4"/><circle cx="213.5" cy="298.9" r="3.4"/><circle cx="222.8" cy="298.2" r="3.4"/><circle cx="232.1" cy="298.4" r="3.4"/><circle cx="202.1" cy="299.7" r="3.4"/><circle cx="205.6" cy="305.2" r="3.4"/><circle cx="198.3" cy="317.8" r="3.4"/><circle cx="193.3" cy="325.4" r="3.4"/><circle cx="195.8" cy="327.9" r="3.4"/><circle cx="203.4" cy="339.7" r="3.4"/><circle cx="284.0" cy="178.5" r="3.4"/><circle cx="287.0" cy="181.5" r="3.4"/><circle cx="206.0" cy="303.5" r="3.4"/><circle cx="196.0" cy="326.5" r="3.4"/></g>
<path d="M162.7 210.9h6.9l-3.45 6.4zM173.4 202.1h6.9l-3.45 6.4zM199.2 204.4h6.9l-3.45 6.4zM179.1 230.8h6.9l-3.45 6.4zM215.6 222.0h6.9l-3.45 6.4zM226.8 224.0h6.9l-3.45 6.4zM240.3 224.0h6.9l-3.45 6.4zM255.1 224.5h6.9l-3.45 6.4zM209.3 233.6h6.9l-3.45 6.4zM216.8 241.7h6.9l-3.45 6.4zM250.8 200.6h6.9l-3.45 6.4zM255.1 176.2h6.9l-3.45 6.4zM263.7 176.2h6.9l-3.45 6.4zM259.3 180.7h6.9l-3.45 6.4zM262.2 155.3h6.9l-3.45 6.4zM266.7 210.9h6.9l-3.45 6.4zM273.4 200.1h6.9l-3.45 6.4zM275.9 171.2h6.9l-3.45 6.4zM297.9 185.0h6.9l-3.45 6.4zM272.8 198.9h6.9l-3.45 6.4zM266.4 210.9h6.9l-3.45 6.4zM302.9 208.9h6.9l-3.45 6.4zM304.9 216.0h6.9l-3.45 6.4zM311.8 220.3h6.9l-3.45 6.4zM319.8 211.4h6.9l-3.45 6.4zM329.3 208.4h6.9l-3.45 6.4zM335.2 202.6h6.9l-3.45 6.4zM344.6 224.0h6.9l-3.45 6.4zM292.3 231.6h6.9l-3.45 6.4zM285.3 246.7h6.9l-3.45 6.4zM245.1 276.2h6.9l-3.45 6.4zM195.9 287.0h6.9l-3.45 6.4zM206.8 292.6h6.9l-3.45 6.4zM230.7 288.8h6.9l-3.45 6.4zM226.8 291.8h6.9l-3.45 6.4zM223.1 302.1h6.9l-3.45 6.4zM203.4 307.2h6.9l-3.45 6.4zM190.3 310.2h6.9l-3.45 6.4zM192.3 327.8h6.9l-3.45 6.4zM205.4 346.7h6.9l-3.45 6.4zM284.8 245.9h6.9l-3.45 6.4zM269.6 195.9h6.9l-3.45 6.4zM277.6 203.9h6.9l-3.45 6.4zM287.6 195.9h6.9l-3.45 6.4z" fill="#000" fill-opacity="0.5"/>
<g fill="#d3d3d3" fill-opacity="0.5"><circle cx="250.5" cy="154.1" r="3.4"/><circle cx="261.8" cy="153.6" r="3.4"/><circle cx="268.1" cy="156.1" r="3.4"/><circle cx="261.0" cy="162.9" r="3.4"/><circle cx="253.0" cy="168.7" r="3.4"/><circle cx="276.9" cy="168.0" r="3.4"/><circle cx="245.4" cy="181.8" r="3.4"/><circle cx="232.1" cy="189.4" r="3.4"/><circle cx="265.6" cy="190.1" r="3.4"/><circle cx="267.3" cy="194.4" r="3.4"/><circle cx="214.0" cy="225.9" r="3.4"/><circle cx="302.6" cy="178.3" r="3.4"/><circle cx="317.7" cy="186.3" r="3.4"/><circle cx="293.8" cy="186.3" r="3.4"/><circle cx="278.7" cy="192.6" r="3.4"/><circle cx="324.0" cy="188.9" r="3.4"/><circle cx="345.4" cy="221.6" r="3.4"/><circle cx="190.0" cy="251.1" r="3.4"/><circle cx="208.4" cy="252.4" r="3.4"/><circle cx="203.9" cy="263.7" r="3.4"/><circle cx="232.8" cy="266.2" r="3.4"/><circle cx="240.9" cy="276.3" r="3.4"/><circle cx="261.8" cy="299.7" r="3.4"/><circle cx="239.1" cy="299.7" r="3.4"/><circle cx="239.1" cy="310.8" r="3.4"/><circle cx="213.2" cy="310.8" r="3.4"/><circle cx="224.8" cy="318.3" r="3.4"/><circle cx="238.4" cy="324.1" r="3.4"/><circle cx="218.2" cy="327.1" r="3.4"/><circle cx="220.3" cy="329.7" r="3.4"/><circle cx="210.2" cy="338.7" r="3.4"/><circle cx="211.4" cy="341.7" r="3.4"/><circle cx="209.4" cy="352.6" r="3.4"/><circle cx="221.5" cy="370.6" r="3.4"/><circle cx="271.0" cy="176.5" r="3.4"/><circle cx="257.0" cy="198.5" r="3.4"/><circle cx="273.0" cy="184.5" r="3.4"/><circle cx="287.0" cy="194.5" r="3.4"/><circle cx="299.0" cy="203.5" r="3.4"/><circle cx="307.0" cy="198.5" r="3.4"/><circle cx="263.0" cy="210.5" r="3.4"/><circle cx="251.0" cy="216.5" r="3.4"/><circle cx="237.0" cy="236.5" r="3.4"/><circle cx="229.0" cy="244.5" r="3.4"/><circle cx="297.0" cy="170.5" r="3.4"/><circle cx="285.0" cy="158.5" r="3.4"/></g>
<path d="M270.9 180.7h6.9l-3.45 6.4zM192.8 281.2h6.9l-3.45 6.4zM216.8 290.0h6.9l-3.45 6.4zM223.1 283.7h6.9l-3.45 6.4zM230.7 261.1h6.9l-3.45 6.4zM250.8 285.0h6.9l-3.45 6.4zM190.3 308.9h6.9l-3.45 6.4zM271.4 180.7h6.9l-3.45 6.4zM323.1 216.5h6.9l-3.45 6.4zM251.6 283.9h6.9l-3.45 6.4zM234.6 235.9h6.9l-3.45 6.4zM247.6 231.9h6.9l-3.45 6.4zM257.6 217.9h6.9l-3.45 6.4zM265.6 201.9h6.9l-3.45 6.4zM279.6 210.9h6.9l-3.45 6.4zM289.6 217.9h6.9l-3.45 6.4zM299.6 225.9h6.9l-3.45 6.4zM307.6 209.9h6.9l-3.45 6.4zM315.6 217.9h6.9l-3.45 6.4zM323.6 223.9h6.9l-3.45 6.4zM331.6 227.9h6.9l-3.45 6.4zM272.6 187.9h6.9l-3.45 6.4zM262.6 195.9h6.9l-3.45 6.4zM241.6 245.9h6.9l-3.45 6.4zM227.6 257.9h6.9l-3.45 6.4zM217.6 267.9h6.9l-3.45 6.4zM209.6 277.9h6.9l-3.45 6.4zM201.6 287.9h6.9l-3.45 6.4zM197.6 295.9h6.9l-3.45 6.4zM253.6 241.9h6.9l-3.45 6.4zM263.6 233.9h6.9l-3.45 6.4zM275.6 221.9h6.9l-3.45 6.4zM285.6 207.9h6.9l-3.45 6.4zM295.6 191.9h6.9l-3.45 6.4zM303.6 181.9h6.9l-3.45 6.4zM337.6 210.9h6.9l-3.45 6.4z" fill="#dcdcdc" fill-opacity="0.4"/>
<line x1="190.0" y1="305.2" x2="325.8" y2="156.1" stroke="#c8c8c8" stroke-width="1.6" stroke-linecap="butt"/>
<line x1="187.0" y1="272.5" x2="197.8" y2="265.8" stroke="#dedede" stroke-width="1.6" stroke-dasharray="2 1.7" stroke-linecap="butt"/>
<line x1="197.8" y1="265.8" x2="224.3" y2="249.2" stroke="#dedede" stroke-width="1.6" stroke-dasharray="4 1.2" stroke-linecap="butt"/>
<line x1="224.3" y1="249.2" x2="314.4" y2="192.7" stroke="#dedede" stroke-width="1.6" stroke-linecap="butt"/>
<line x1="314.4" y1="192.7" x2="335.5" y2="179.5" stroke="#dedede" stroke-width="1.6" stroke-dasharray="2 1.7" stroke-linecap="butt"/>
<line x1="187.5" y1="283.8" x2="331.1" y2="178.8" stroke="#000" stroke-width="1.7" stroke-linecap="butt"/>
<line x1="167.4" y1="282.1" x2="195.6" y2="266.5" stroke="#000" stroke-width="1.7" stroke-dasharray="2 1.7" stroke-linecap="butt"/>
<line x1="195.6" y1="266.5" x2="221.1" y2="252.4" stroke="#000" stroke-width="1.7" stroke-dasharray="4 1.2" stroke-linecap="butt"/>
<line x1="221.1" y1="252.4" x2="314.4" y2="200.7" stroke="#000" stroke-width="1.7" stroke-linecap="butt"/>
<line x1="314.4" y1="200.7" x2="346.2" y2="183.1" stroke="#000" stroke-width="1.7" stroke-dasharray="2 1.7" stroke-linecap="butt"/>
<line x1="223.9" y1="226.3" x2="340.6" y2="241.9" stroke="#0000ee" stroke-width="2.9" stroke-linecap="butt"/>
<path d="M81.11 395.50v2.3M91.71 395.50v2.3M102.32 395.50v2.3M112.92 395.50v2.3M134.13 395.50v2.3M144.74 395.50v2.3M155.34 395.50v2.3M165.95 395.50v2.3M187.16 395.50v2.3M197.76 395.50v2.3M208.37 395.50v2.3M218.97 395.50v2.3M240.18 395.50v2.3M250.79 395.50v2.3M261.39 395.50v2.3M272.00 395.50v2.3M293.21 395.50v2.3M303.81 395.50v2.3M314.42 395.50v2.3M325.02 395.50v2.3M346.23 395.50v2.3M356.84 395.50v2.3M367.44 395.50v2.3M378.05 395.50v2.3M399.25 395.50v2.3M409.86 395.50v2.3M420.47 395.50v2.3M431.07 395.50v2.3M452.28 395.50v2.3M462.89 395.50v2.3M473.49 395.50v2.3M484.10 395.50v2.3M70.50 385.47h-2.3M70.50 375.44h-2.3M70.50 365.41h-2.3M70.50 345.34h-2.3M70.50 335.31h-2.3M70.50 325.28h-2.3M70.50 305.22h-2.3M70.50 295.19h-2.3M70.50 285.16h-2.3M70.50 265.09h-2.3M70.50 255.06h-2.3M70.50 245.03h-2.3M70.50 224.97h-2.3M70.50 214.94h-2.3M70.50 204.91h-2.3M70.50 184.84h-2.3M70.50 174.81h-2.3M70.50 164.78h-2.3M70.50 144.72h-2.3M70.50 134.69h-2.3M70.50 124.66h-2.3M70.50 104.59h-2.3M70.50 94.56h-2.3M70.50 84.53h-2.3" stroke="#555" stroke-width="0.7" fill="none"/>
<path d="M70.50 74.00V395.50H495.20M70.50 395.50v5.2M123.53 395.50v5.2M176.55 395.50v5.2M229.58 395.50v5.2M282.60 395.50v5.2M335.62 395.50v5.2M388.65 395.50v5.2M441.68 395.50v5.2M494.70 395.50v5.2M70.50 395.50h-5M70.50 355.38h-5M70.50 315.25h-5M70.50 275.12h-5M70.50 235.00h-5M70.50 194.88h-5M70.50 154.75h-5M70.50 114.62h-5M70.50 74.50h-5" stroke="#1a1a1a" stroke-width="1" fill="none"/>
<g font-size="10.3" fill="#111" stroke="#111" stroke-width="0.15"><text transform="translate(70.8 416.0) scale(0.92 1)" text-anchor="middle"><tspan fill="#8fd0d0" stroke="none">−</tspan>2</text><text transform="translate(123.8 416.0) scale(0.92 1)" text-anchor="middle">−1.5</text><text transform="translate(176.9 416.0) scale(0.92 1)" text-anchor="middle">−1</text><text transform="translate(229.9 416.0) scale(0.92 1)" text-anchor="middle">−0.5</text><text transform="translate(282.9 416.0) scale(0.92 1)" text-anchor="middle">0</text><text transform="translate(335.9 416.0) scale(0.92 1)" text-anchor="middle">0.5</text><text transform="translate(389.0 416.0) scale(0.92 1)" text-anchor="middle">1</text><text transform="translate(442.0 416.0) scale(0.92 1)" text-anchor="middle">1.5</text><text transform="translate(495.0 416.0) scale(0.92 1)" text-anchor="middle">2</text><text transform="translate(59.0 399.3) scale(0.92 1)" text-anchor="end">−1</text><text transform="translate(59.0 359.2) scale(0.92 1)" text-anchor="end">−0.75</text><text transform="translate(59.0 319.1) scale(0.92 1)" text-anchor="end">−0.5</text><text transform="translate(59.0 278.9) scale(0.92 1)" text-anchor="end">−0.25</text><text transform="translate(59.0 238.8) scale(0.92 1)" text-anchor="end">0</text><text transform="translate(59.0 198.7) scale(0.92 1)" text-anchor="end">0.25</text><text transform="translate(59.0 158.6) scale(0.92 1)" text-anchor="end">0.5</text><text transform="translate(59.0 118.4) scale(0.92 1)" text-anchor="end">0.75</text><text transform="translate(59.0 78.3) scale(0.92 1)" text-anchor="end">1</text></g>
<text transform="translate(62.3 63.8) scale(0.826 1)" font-size="17.2" fill="#111" stroke="#111" stroke-width="0.25">OMIP1 and Others Global O<tspan font-size="11.6" dy="3">2, sat</tspan><tspan dy="-3"> –</tspan><tspan dx="-2.2"> Minus AOU Relationship (0-700m)</tspan></text>
<text transform="translate(283.8 438.7) scale(0.855 1)" font-size="15.3" fill="#111" stroke="#111" stroke-width="0.25" text-anchor="middle">−AOU [mmol m<tspan font-size="10.8" dy="-5.8">−3</tspan><tspan dy="5.8">]</tspan></text>
<text transform="translate(25.2 232.4) rotate(-90) scale(0.935 1)" font-size="15.6" fill="#111" stroke="#111" stroke-width="0.2" text-anchor="middle">O<tspan font-size="10.6" dy="2.6">2, sat</tspan><tspan dy="-2.6"> [mmol m</tspan><tspan font-size="10.6" dy="-5.6">−3</tspan><tspan dy="5.6">]</tspan></text>
<text transform="translate(0.4 24.4) scale(0.985 1)" font-size="29.8" font-weight="bold" fill="#000">A</text>
<circle cx="398.3" cy="84.8" r="2.6" fill="#4a4aff" fill-opacity="0.38"/>
<circle cx="443.8" cy="84.8" r="2.6" fill="#8fd8e8" fill-opacity="0.42"/>
<line x1="380.1" y1="99.9" x2="398.5" y2="99.9" stroke="#0000ee" stroke-width="2.7"/>
<circle cx="374.8" cy="115.0" r="2.9" fill="#000" fill-opacity="0.5"/>
<line x1="380.1" y1="115.0" x2="398.5" y2="115.0" stroke="#000" stroke-width="2.5"/>
<path d="M372.0 127.5h6l-3 5.8z" fill="#000" fill-opacity="0.5"/>
<line x1="380.1" y1="130.1" x2="398.5" y2="130.1" stroke="#000" stroke-width="2.5" stroke-dasharray="3.4 3" stroke-dashoffset="2"/>
<circle cx="374.8" cy="145.2" r="2.9" fill="#cfcfcf" fill-opacity="0.5"/>
<line x1="380.1" y1="145.2" x2="398.5" y2="145.2" stroke="#c8c8c8" stroke-width="2.5"/>
<path d="M372.0 157.7h6l-3 5.8z" fill="#d8d8d8" fill-opacity="0.4"/>
<line x1="380.1" y1="160.3" x2="398.5" y2="160.3" stroke="#dcdcdc" stroke-width="2.5" stroke-dasharray="3.4 3" stroke-dashoffset="2"/>
<g font-size="11.75" fill="#111" stroke="#111" stroke-width="0.2"><text transform="translate(449.5 88.8) scale(0.862 1)">Others</text><text transform="translate(403.8 88.8) scale(0.862 1)">OMIP1</text><text transform="translate(403.8 103.9) scale(0.862 1)">OMIP1 MM-Mean</text><text transform="translate(403.8 119.0) scale(0.862 1)">WOD2018 ORAS4</text><text transform="translate(403.8 134.1) scale(0.862 1)">WOD2018 EN4.2.1</text><text transform="translate(403.8 149.2) scale(0.862 1)">WOD2018 Cheng</text><text transform="translate(404.90000000000003 164.3) scale(0.862 1)">WOD2018 Ishii</text></g>
<path d="M662.5 76.0V397.0M715.6 76.0V397.0M768.6 76.0V397.0M874.6 76.0V397.0M927.6 76.0V397.0M980.7 76.0V397.0M1033.7 76.0V397.0M609.5 356.9H1033.7M609.5 316.8H1033.7M609.5 276.6H1033.7M609.5 196.4H1033.7M609.5 156.2H1033.7M609.5 116.1H1033.7M609.5 76.0H1033.7" stroke="#f9f9f9" stroke-width="0.7" fill="none"/>
<path d="M609.50 236.25H1033.70M821.60 76.00V397.00" stroke="#858585" stroke-width="0.9" stroke-dasharray="2.9 1.2" fill="none"/>
<rect x="1034" y="20.4" width="56" height="55.2" fill="#ffb0b0"/>
<text transform="translate(1062.8 60.0) scale(0.845 1)" font-size="34" fill="#000" text-anchor="middle">+O<tspan font-size="18.8" dy="10.2">2</tspan></text>
<rect x="553" y="396.2" width="56" height="55.2" fill="#b0ffff"/>
<text transform="translate(581.1 433.3) scale(0.845 1)" font-size="34" fill="#000" text-anchor="middle">-O<tspan font-size="18.8" dy="10.2">2</tspan></text>
<g fill="#ff4040" fill-opacity="0.36"><circle cx="829.9" cy="250.3" r="1.7"/><circle cx="817.1" cy="235.7" r="1.7"/><circle cx="787.9" cy="243.2" r="1.7"/><circle cx="824.3" cy="246.1" r="1.7"/><circle cx="795.1" cy="227.6" r="1.7"/><circle cx="807.1" cy="253.0" r="1.7"/><circle cx="831.4" cy="222.3" r="1.7"/><circle cx="808.8" cy="257.5" r="1.7"/><circle cx="814.6" cy="251.2" r="1.7"/><circle cx="825.7" cy="243.0" r="1.7"/><circle cx="826.8" cy="233.0" r="1.7"/><circle cx="813.8" cy="245.8" r="1.7"/><circle cx="802.8" cy="234.1" r="1.7"/><circle cx="847.1" cy="237.6" r="1.7"/><circle cx="833.0" cy="238.9" r="1.7"/><circle cx="839.4" cy="236.1" r="1.7"/><circle cx="813.1" cy="243.2" r="1.7"/><circle cx="834.5" cy="240.8" r="1.7"/><circle cx="836.0" cy="249.7" r="1.7"/><circle cx="808.0" cy="251.7" r="1.7"/><circle cx="786.8" cy="237.6" r="1.7"/><circle cx="854.2" cy="231.4" r="1.7"/><circle cx="835.4" cy="236.6" r="1.7"/><circle cx="812.4" cy="259.3" r="1.7"/><circle cx="817.2" cy="242.2" r="1.7"/><circle cx="792.4" cy="254.8" r="1.7"/><circle cx="797.1" cy="253.3" r="1.7"/><circle cx="819.6" cy="247.3" r="1.7"/><circle cx="781.0" cy="239.9" r="1.7"/><circle cx="760.1" cy="242.4" r="1.7"/><circle cx="793.6" cy="235.4" r="1.7"/><circle cx="825.0" cy="239.2" r="1.7"/><circle cx="783.7" cy="248.7" r="1.7"/><circle cx="808.1" cy="241.3" r="1.7"/><circle cx="799.4" cy="245.9" r="1.7"/><circle cx="815.1" cy="237.7" r="1.7"/><circle cx="810.4" cy="249.0" r="1.7"/><circle cx="793.9" cy="255.6" r="1.7"/><circle cx="838.3" cy="248.6" r="1.7"/><circle cx="791.8" cy="247.1" r="1.7"/><circle cx="833.4" cy="248.0" r="1.7"/><circle cx="803.8" cy="251.8" r="1.7"/><circle cx="838.6" cy="230.6" r="1.7"/><circle cx="837.6" cy="239.6" r="1.7"/><circle cx="812.5" cy="244.7" r="1.7"/><circle cx="812.4" cy="227.8" r="1.7"/><circle cx="823.8" cy="250.7" r="1.7"/><circle cx="851.1" cy="236.4" r="1.7"/><circle cx="819.4" cy="236.9" r="1.7"/><circle cx="822.2" cy="243.5" r="1.7"/><circle cx="827.7" cy="243.0" r="1.7"/><circle cx="808.9" cy="244.6" r="1.7"/><circle cx="808.7" cy="223.0" r="1.7"/><circle cx="802.9" cy="256.9" r="1.7"/><circle cx="775.1" cy="242.9" r="1.7"/><circle cx="831.4" cy="228.9" r="1.7"/><circle cx="812.1" cy="246.4" r="1.7"/><circle cx="826.1" cy="247.8" r="1.7"/><circle cx="810.4" cy="230.6" r="1.7"/><circle cx="818.7" cy="235.5" r="1.7"/><circle cx="773.1" cy="258.1" r="1.7"/><circle cx="806.8" cy="244.2" r="1.7"/><circle cx="835.2" cy="246.7" r="1.7"/><circle cx="812.1" cy="236.4" r="1.7"/><circle cx="823.3" cy="238.3" r="1.7"/><circle cx="796.6" cy="240.1" r="1.7"/><circle cx="793.3" cy="239.0" r="1.7"/><circle cx="800.6" cy="224.9" r="1.7"/><circle cx="798.8" cy="241.3" r="1.7"/><circle cx="797.6" cy="251.5" r="1.7"/><circle cx="818.7" cy="232.0" r="1.7"/><circle cx="797.7" cy="228.0" r="1.7"/><circle cx="812.8" cy="254.3" r="1.7"/><circle cx="770.1" cy="236.6" r="1.7"/><circle cx="833.6" cy="224.1" r="1.7"/><circle cx="812.5" cy="257.7" r="1.7"/><circle cx="821.3" cy="243.9" r="1.7"/><circle cx="778.8" cy="253.2" r="1.7"/><circle cx="817.6" cy="242.3" r="1.7"/><circle cx="820.7" cy="247.9" r="1.7"/><circle cx="806.7" cy="231.1" r="1.7"/><circle cx="799.4" cy="251.3" r="1.7"/><circle cx="836.4" cy="235.6" r="1.7"/><circle cx="827.4" cy="244.1" r="1.7"/><circle cx="846.4" cy="216.7" r="1.7"/><circle cx="793.2" cy="252.7" r="1.7"/><circle cx="792.0" cy="230.9" r="1.7"/><circle cx="863.1" cy="237.9" r="1.7"/><circle cx="819.9" cy="233.2" r="1.7"/><circle cx="814.8" cy="242.3" r="1.7"/><circle cx="812.1" cy="222.9" r="1.7"/><circle cx="766.6" cy="252.5" r="1.7"/><circle cx="830.0" cy="212.2" r="1.7"/><circle cx="833.2" cy="242.7" r="1.7"/><circle cx="811.0" cy="236.1" r="1.7"/><circle cx="790.0" cy="240.2" r="1.7"/><circle cx="830.2" cy="232.9" r="1.7"/><circle cx="805.6" cy="223.7" r="1.7"/><circle cx="813.2" cy="253.0" r="1.7"/><circle cx="833.3" cy="223.5" r="1.7"/><circle cx="824.8" cy="258.5" r="1.7"/><circle cx="824.4" cy="238.6" r="1.7"/><circle cx="787.5" cy="253.9" r="1.7"/><circle cx="797.4" cy="235.2" r="1.7"/><circle cx="827.0" cy="240.0" r="1.7"/><circle cx="773.5" cy="230.1" r="1.7"/><circle cx="793.7" cy="240.2" r="1.7"/><circle cx="788.0" cy="245.6" r="1.7"/><circle cx="814.6" cy="248.3" r="1.7"/><circle cx="812.0" cy="241.3" r="1.7"/><circle cx="753.4" cy="251.4" r="1.7"/><circle cx="784.3" cy="232.3" r="1.7"/><circle cx="815.3" cy="228.9" r="1.7"/><circle cx="858.1" cy="232.5" r="1.7"/><circle cx="795.4" cy="265.9" r="1.7"/><circle cx="836.0" cy="226.8" r="1.7"/><circle cx="818.2" cy="250.0" r="1.7"/><circle cx="820.3" cy="244.4" r="1.7"/><circle cx="796.4" cy="238.6" r="1.7"/><circle cx="818.4" cy="245.9" r="1.7"/><circle cx="812.4" cy="227.9" r="1.7"/><circle cx="804.3" cy="235.6" r="1.7"/><circle cx="816.1" cy="252.2" r="1.7"/><circle cx="826.7" cy="232.1" r="1.7"/><circle cx="810.4" cy="249.3" r="1.7"/><circle cx="846.3" cy="234.2" r="1.7"/><circle cx="819.5" cy="242.7" r="1.7"/><circle cx="818.9" cy="236.8" r="1.7"/><circle cx="805.2" cy="232.4" r="1.7"/><circle cx="791.5" cy="231.0" r="1.7"/><circle cx="795.2" cy="246.3" r="1.7"/><circle cx="812.9" cy="235.7" r="1.7"/><circle cx="818.3" cy="234.3" r="1.7"/><circle cx="788.1" cy="251.8" r="1.7"/><circle cx="848.8" cy="223.5" r="1.7"/><circle cx="811.2" cy="233.9" r="1.7"/><circle cx="839.2" cy="219.9" r="1.7"/><circle cx="796.5" cy="244.1" r="1.7"/><circle cx="819.4" cy="238.3" r="1.7"/><circle cx="815.8" cy="242.6" r="1.7"/><circle cx="835.0" cy="225.0" r="1.7"/><circle cx="812.8" cy="239.7" r="1.7"/><circle cx="811.6" cy="263.0" r="1.7"/><circle cx="801.1" cy="245.3" r="1.7"/><circle cx="818.1" cy="238.9" r="1.7"/><circle cx="832.1" cy="229.4" r="1.7"/><circle cx="827.4" cy="246.7" r="1.7"/><circle cx="830.2" cy="236.2" r="1.7"/><circle cx="796.6" cy="248.5" r="1.7"/><circle cx="843.4" cy="225.6" r="1.7"/><circle cx="833.9" cy="225.8" r="1.7"/><circle cx="813.6" cy="246.9" r="1.7"/><circle cx="825.3" cy="234.1" r="1.7"/><circle cx="793.3" cy="245.3" r="1.7"/><circle cx="790.7" cy="224.0" r="1.7"/><circle cx="817.2" cy="250.6" r="1.7"/><circle cx="835.3" cy="250.1" r="1.7"/><circle cx="826.1" cy="245.2" r="1.7"/><circle cx="839.8" cy="231.2" r="1.7"/><circle cx="868.3" cy="244.4" r="1.7"/><circle cx="768.7" cy="237.3" r="1.7"/><circle cx="800.7" cy="237.9" r="1.7"/><circle cx="774.2" cy="241.3" r="1.7"/><circle cx="811.2" cy="252.3" r="1.7"/><circle cx="814.1" cy="247.2" r="1.7"/><circle cx="840.3" cy="259.2" r="1.7"/><circle cx="820.5" cy="256.0" r="1.7"/><circle cx="796.8" cy="283.9" r="1.7"/><circle cx="818.8" cy="208.6" r="1.7"/><circle cx="814.4" cy="224.2" r="1.7"/><circle cx="782.8" cy="229.9" r="1.7"/><circle cx="800.7" cy="284.1" r="1.7"/><circle cx="827.0" cy="255.4" r="1.7"/><circle cx="863.7" cy="247.7" r="1.7"/><circle cx="858.1" cy="275.4" r="1.7"/><circle cx="812.5" cy="251.8" r="1.7"/><circle cx="840.3" cy="264.4" r="1.7"/><circle cx="834.8" cy="253.7" r="1.7"/><circle cx="830.2" cy="247.4" r="1.7"/><circle cx="829.9" cy="237.9" r="1.7"/><circle cx="802.6" cy="245.6" r="1.7"/><circle cx="838.8" cy="257.5" r="1.7"/><circle cx="806.5" cy="256.7" r="1.7"/><circle cx="825.7" cy="301.9" r="1.7"/><circle cx="894.6" cy="222.1" r="1.7"/><circle cx="805.7" cy="222.2" r="1.7"/><circle cx="797.3" cy="250.0" r="1.7"/><circle cx="821.4" cy="279.7" r="1.7"/><circle cx="794.7" cy="268.7" r="1.7"/><circle cx="803.6" cy="248.8" r="1.7"/><circle cx="808.5" cy="232.4" r="1.7"/><circle cx="833.3" cy="253.9" r="1.7"/><circle cx="843.7" cy="251.0" r="1.7"/><circle cx="771.8" cy="269.4" r="1.7"/><circle cx="782.6" cy="240.6" r="1.7"/><circle cx="795.7" cy="237.7" r="1.7"/><circle cx="846.5" cy="233.9" r="1.7"/><circle cx="774.8" cy="275.9" r="1.7"/><circle cx="821.4" cy="263.6" r="1.7"/><circle cx="812.0" cy="274.6" r="1.7"/><circle cx="773.4" cy="269.3" r="1.7"/><circle cx="858.1" cy="199.9" r="1.7"/><circle cx="789.5" cy="245.6" r="1.7"/><circle cx="804.1" cy="260.9" r="1.7"/><circle cx="823.0" cy="232.3" r="1.7"/><circle cx="790.0" cy="236.4" r="1.7"/><circle cx="813.5" cy="260.8" r="1.7"/><circle cx="821.2" cy="224.4" r="1.7"/><circle cx="778.2" cy="267.3" r="1.7"/><circle cx="829.0" cy="219.3" r="1.7"/><circle cx="824.6" cy="300.3" r="1.7"/><circle cx="824.2" cy="305.5" r="1.7"/><circle cx="792.2" cy="291.2" r="1.7"/><circle cx="807.2" cy="268.8" r="1.7"/><circle cx="804.9" cy="308.6" r="1.7"/><circle cx="816.4" cy="276.1" r="1.7"/><circle cx="786.3" cy="279.4" r="1.7"/><circle cx="833.3" cy="287.8" r="1.7"/><circle cx="817.9" cy="290.6" r="1.7"/><circle cx="820.0" cy="291.7" r="1.7"/><circle cx="794.3" cy="311.8" r="1.7"/><circle cx="812.7" cy="289.4" r="1.7"/><circle cx="942.6" cy="195.0" r="1.7"/><circle cx="919.1" cy="187.8" r="1.7"/><circle cx="895.5" cy="202.5" r="1.7"/><circle cx="893.3" cy="204.2" r="1.7"/><circle cx="931.8" cy="198.3" r="1.7"/><circle cx="854.0" cy="230.9" r="1.7"/><circle cx="871.4" cy="221.2" r="1.7"/><circle cx="939.7" cy="185.7" r="1.7"/><circle cx="912.3" cy="197.4" r="1.7"/><circle cx="928.0" cy="196.8" r="1.7"/><circle cx="901.5" cy="201.3" r="1.7"/><circle cx="857.1" cy="221.2" r="1.7"/><circle cx="901.8" cy="203.9" r="1.7"/><circle cx="910.2" cy="213.1" r="1.7"/><circle cx="861.4" cy="212.1" r="1.7"/><circle cx="896.7" cy="214.3" r="1.7"/><circle cx="938.4" cy="201.0" r="1.7"/><circle cx="859.0" cy="212.0" r="1.7"/><circle cx="857.6" cy="219.2" r="1.7"/><circle cx="862.7" cy="209.5" r="1.7"/><circle cx="914.9" cy="200.1" r="1.7"/><circle cx="933.9" cy="196.9" r="1.7"/></g>
<g fill="#000" fill-opacity="0.5"><circle cx="818.4" cy="164.4" r="3.4"/><circle cx="793.2" cy="172.7" r="3.4"/><circle cx="791.5" cy="190.9" r="3.4"/><circle cx="792.5" cy="199.2" r="3.4"/><circle cx="779.9" cy="205.5" r="3.4"/><circle cx="765.0" cy="221.8" r="3.4"/><circle cx="749.2" cy="233.7" r="3.4"/><circle cx="763.0" cy="232.4" r="3.4"/><circle cx="736.1" cy="237.0" r="3.4"/><circle cx="726.5" cy="242.5" r="3.4"/><circle cx="727.3" cy="249.0" r="3.4"/><circle cx="822.2" cy="247.8" r="3.4"/><circle cx="827.2" cy="186.6" r="3.4"/><circle cx="851.7" cy="169.0" r="3.4"/><circle cx="847.9" cy="175.3" r="3.4"/><circle cx="821.5" cy="185.3" r="3.4"/><circle cx="827.8" cy="186.6" r="3.4"/><circle cx="829.0" cy="191.6" r="3.4"/><circle cx="834.1" cy="195.9" r="3.4"/><circle cx="816.4" cy="205.5" r="3.4"/><circle cx="827.8" cy="206.0" r="3.4"/><circle cx="853.0" cy="197.9" r="3.4"/><circle cx="856.0" cy="205.0" r="3.4"/><circle cx="870.1" cy="203.0" r="3.4"/><circle cx="858.5" cy="215.5" r="3.4"/><circle cx="856.0" cy="233.7" r="3.4"/><circle cx="797.6" cy="229.4" r="3.4"/><circle cx="841.6" cy="247.0" r="3.4"/><circle cx="853.0" cy="245.8" r="3.4"/><circle cx="850.9" cy="261.9" r="3.4"/><circle cx="768.1" cy="258.1" r="3.4"/><circle cx="783.4" cy="273.5" r="3.4"/><circle cx="768.8" cy="286.6" r="3.4"/><circle cx="742.4" cy="295.9" r="3.4"/><circle cx="752.5" cy="300.4" r="3.4"/><circle cx="761.8" cy="299.7" r="3.4"/><circle cx="771.1" cy="299.9" r="3.4"/><circle cx="741.1" cy="301.2" r="3.4"/><circle cx="744.6" cy="306.7" r="3.4"/><circle cx="737.3" cy="319.3" r="3.4"/><circle cx="732.3" cy="326.9" r="3.4"/><circle cx="734.8" cy="329.4" r="3.4"/><circle cx="742.4" cy="341.2" r="3.4"/><circle cx="823.0" cy="180.0" r="3.4"/><circle cx="826.0" cy="183.0" r="3.4"/><circle cx="745.0" cy="305.0" r="3.4"/><circle cx="735.0" cy="328.0" r="3.4"/></g>
<path d="M701.6 212.4h6.9l-3.45 6.4zM712.4 203.6h6.9l-3.45 6.4zM738.1 205.9h6.9l-3.45 6.4zM718.0 232.3h6.9l-3.45 6.4zM754.5 223.5h6.9l-3.45 6.4zM765.8 225.5h6.9l-3.45 6.4zM779.2 225.5h6.9l-3.45 6.4zM794.0 226.0h6.9l-3.45 6.4zM748.2 235.1h6.9l-3.45 6.4zM755.8 243.2h6.9l-3.45 6.4zM789.8 202.1h6.9l-3.45 6.4zM794.0 177.7h6.9l-3.45 6.4zM802.6 177.7h6.9l-3.45 6.4zM798.3 182.2h6.9l-3.45 6.4zM801.1 156.8h6.9l-3.45 6.4zM805.6 212.4h6.9l-3.45 6.4zM812.4 201.6h6.9l-3.45 6.4zM814.9 172.7h6.9l-3.45 6.4zM836.9 186.5h6.9l-3.45 6.4zM811.8 200.4h6.9l-3.45 6.4zM805.4 212.4h6.9l-3.45 6.4zM841.9 210.4h6.9l-3.45 6.4zM843.9 217.5h6.9l-3.45 6.4zM850.8 221.8h6.9l-3.45 6.4zM858.8 212.9h6.9l-3.45 6.4zM868.3 209.9h6.9l-3.45 6.4zM874.1 204.1h6.9l-3.45 6.4zM883.5 225.5h6.9l-3.45 6.4zM831.3 233.1h6.9l-3.45 6.4zM824.3 248.2h6.9l-3.45 6.4zM784.0 277.7h6.9l-3.45 6.4zM734.9 288.5h6.9l-3.45 6.4zM745.8 294.1h6.9l-3.45 6.4zM769.6 290.3h6.9l-3.45 6.4zM765.8 293.3h6.9l-3.45 6.4zM762.0 303.6h6.9l-3.45 6.4zM742.4 308.7h6.9l-3.45 6.4zM729.3 311.7h6.9l-3.45 6.4zM731.3 329.3h6.9l-3.45 6.4zM744.4 348.2h6.9l-3.45 6.4zM823.8 247.4h6.9l-3.45 6.4zM808.5 197.4h6.9l-3.45 6.4zM816.5 205.4h6.9l-3.45 6.4zM826.5 197.4h6.9l-3.45 6.4z" fill="#000" fill-opacity="0.5"/>
<g fill="#d3d3d3" fill-opacity="0.5"><circle cx="789.5" cy="155.6" r="3.4"/><circle cx="800.8" cy="155.1" r="3.4"/><circle cx="807.1" cy="157.6" r="3.4"/><circle cx="800.0" cy="164.4" r="3.4"/><circle cx="792.0" cy="170.2" r="3.4"/><circle cx="815.9" cy="169.5" r="3.4"/><circle cx="784.4" cy="183.3" r="3.4"/><circle cx="771.1" cy="190.9" r="3.4"/><circle cx="804.6" cy="191.6" r="3.4"/><circle cx="806.3" cy="195.9" r="3.4"/><circle cx="753.0" cy="227.4" r="3.4"/><circle cx="841.6" cy="179.8" r="3.4"/><circle cx="856.7" cy="187.8" r="3.4"/><circle cx="832.8" cy="187.8" r="3.4"/><circle cx="817.7" cy="194.1" r="3.4"/><circle cx="863.0" cy="190.4" r="3.4"/><circle cx="884.4" cy="223.1" r="3.4"/><circle cx="729.0" cy="252.6" r="3.4"/><circle cx="747.4" cy="253.9" r="3.4"/><circle cx="742.9" cy="265.2" r="3.4"/><circle cx="771.8" cy="267.7" r="3.4"/><circle cx="779.9" cy="277.8" r="3.4"/><circle cx="800.8" cy="301.2" r="3.4"/><circle cx="778.1" cy="301.2" r="3.4"/><circle cx="778.1" cy="312.3" r="3.4"/><circle cx="752.2" cy="312.3" r="3.4"/><circle cx="763.8" cy="319.8" r="3.4"/><circle cx="777.4" cy="325.6" r="3.4"/><circle cx="757.2" cy="328.6" r="3.4"/><circle cx="759.3" cy="331.2" r="3.4"/><circle cx="749.2" cy="340.2" r="3.4"/><circle cx="750.4" cy="343.2" r="3.4"/><circle cx="748.4" cy="354.1" r="3.4"/><circle cx="760.5" cy="372.1" r="3.4"/><circle cx="810.0" cy="178.0" r="3.4"/><circle cx="796.0" cy="200.0" r="3.4"/><circle cx="812.0" cy="186.0" r="3.4"/><circle cx="826.0" cy="196.0" r="3.4"/><circle cx="838.0" cy="205.0" r="3.4"/><circle cx="846.0" cy="200.0" r="3.4"/><circle cx="802.0" cy="212.0" r="3.4"/><circle cx="790.0" cy="218.0" r="3.4"/><circle cx="776.0" cy="238.0" r="3.4"/><circle cx="768.0" cy="246.0" r="3.4"/><circle cx="836.0" cy="172.0" r="3.4"/><circle cx="824.0" cy="160.0" r="3.4"/></g>
<path d="M809.9 182.2h6.9l-3.45 6.4zM731.8 282.7h6.9l-3.45 6.4zM755.8 291.5h6.9l-3.45 6.4zM762.0 285.2h6.9l-3.45 6.4zM769.6 262.6h6.9l-3.45 6.4zM789.8 286.5h6.9l-3.45 6.4zM729.3 310.4h6.9l-3.45 6.4zM810.4 182.2h6.9l-3.45 6.4zM862.0 218.0h6.9l-3.45 6.4zM790.5 285.4h6.9l-3.45 6.4zM773.5 237.4h6.9l-3.45 6.4zM786.5 233.4h6.9l-3.45 6.4zM796.5 219.4h6.9l-3.45 6.4zM804.5 203.4h6.9l-3.45 6.4zM818.5 212.4h6.9l-3.45 6.4zM828.5 219.4h6.9l-3.45 6.4zM838.5 227.4h6.9l-3.45 6.4zM846.5 211.4h6.9l-3.45 6.4zM854.5 219.4h6.9l-3.45 6.4zM862.5 225.4h6.9l-3.45 6.4zM870.5 229.4h6.9l-3.45 6.4zM811.5 189.4h6.9l-3.45 6.4zM801.5 197.4h6.9l-3.45 6.4zM780.5 247.4h6.9l-3.45 6.4zM766.5 259.4h6.9l-3.45 6.4zM756.5 269.4h6.9l-3.45 6.4zM748.5 279.4h6.9l-3.45 6.4zM740.5 289.4h6.9l-3.45 6.4zM736.5 297.4h6.9l-3.45 6.4zM792.5 243.4h6.9l-3.45 6.4zM802.5 235.4h6.9l-3.45 6.4zM814.5 223.4h6.9l-3.45 6.4zM824.5 209.4h6.9l-3.45 6.4zM834.5 193.4h6.9l-3.45 6.4zM842.5 183.4h6.9l-3.45 6.4zM876.5 212.4h6.9l-3.45 6.4z" fill="#dcdcdc" fill-opacity="0.4"/>
<line x1="729.0" y1="306.7" x2="864.8" y2="157.6" stroke="#c8c8c8" stroke-width="1.6" stroke-linecap="butt"/>
<line x1="726.0" y1="274.0" x2="736.8" y2="267.3" stroke="#dedede" stroke-width="1.6" stroke-dasharray="2 1.7" stroke-linecap="butt"/>
<line x1="736.8" y1="267.3" x2="763.3" y2="250.7" stroke="#dedede" stroke-width="1.6" stroke-dasharray="4 1.2" stroke-linecap="butt"/>
<line x1="763.3" y1="250.7" x2="853.4" y2="194.2" stroke="#dedede" stroke-width="1.6" stroke-linecap="butt"/>
<line x1="853.4" y1="194.2" x2="874.5" y2="181.0" stroke="#dedede" stroke-width="1.6" stroke-dasharray="2 1.7" stroke-linecap="butt"/>
<line x1="726.5" y1="285.3" x2="870.1" y2="180.3" stroke="#000" stroke-width="1.7" stroke-linecap="butt"/>
<line x1="706.4" y1="283.6" x2="734.6" y2="268.0" stroke="#000" stroke-width="1.7" stroke-dasharray="2 1.7" stroke-linecap="butt"/>
<line x1="734.6" y1="268.0" x2="760.1" y2="253.9" stroke="#000" stroke-width="1.7" stroke-dasharray="4 1.2" stroke-linecap="butt"/>
<line x1="760.1" y1="253.9" x2="853.4" y2="202.2" stroke="#000" stroke-width="1.7" stroke-linecap="butt"/>
<line x1="853.4" y1="202.2" x2="885.2" y2="184.6" stroke="#000" stroke-width="1.7" stroke-dasharray="2 1.7" stroke-linecap="butt"/>
<line x1="759.8" y1="254.8" x2="892.7" y2="214.3" stroke="#f00000" stroke-width="2.9" stroke-linecap="butt"/>
<path d="M620.11 397.00v2.3M630.71 397.00v2.3M641.32 397.00v2.3M651.92 397.00v2.3M673.13 397.00v2.3M683.74 397.00v2.3M694.34 397.00v2.3M704.95 397.00v2.3M726.15 397.00v2.3M736.76 397.00v2.3M747.37 397.00v2.3M757.97 397.00v2.3M779.18 397.00v2.3M789.79 397.00v2.3M800.39 397.00v2.3M811.00 397.00v2.3M832.21 397.00v2.3M842.81 397.00v2.3M853.42 397.00v2.3M864.02 397.00v2.3M885.23 397.00v2.3M895.84 397.00v2.3M906.44 397.00v2.3M917.05 397.00v2.3M938.25 397.00v2.3M948.86 397.00v2.3M959.47 397.00v2.3M970.07 397.00v2.3M991.28 397.00v2.3M1001.88 397.00v2.3M1012.49 397.00v2.3M1023.10 397.00v2.3M609.50 386.97h-2.3M609.50 376.94h-2.3M609.50 366.91h-2.3M609.50 346.84h-2.3M609.50 336.81h-2.3M609.50 326.78h-2.3M609.50 306.72h-2.3M609.50 296.69h-2.3M609.50 286.66h-2.3M609.50 266.59h-2.3M609.50 256.56h-2.3M609.50 246.53h-2.3M609.50 226.47h-2.3M609.50 216.44h-2.3M609.50 206.41h-2.3M609.50 186.34h-2.3M609.50 176.31h-2.3M609.50 166.28h-2.3M609.50 146.22h-2.3M609.50 136.19h-2.3M609.50 126.16h-2.3M609.50 106.09h-2.3M609.50 96.06h-2.3M609.50 86.03h-2.3" stroke="#555" stroke-width="0.7" fill="none"/>
<path d="M609.50 75.50V397.00H1034.20M609.50 397.00v5.2M662.53 397.00v5.2M715.55 397.00v5.2M768.58 397.00v5.2M821.60 397.00v5.2M874.62 397.00v5.2M927.65 397.00v5.2M980.67 397.00v5.2M1033.70 397.00v5.2M609.50 397.00h-5M609.50 356.88h-5M609.50 316.75h-5M609.50 276.62h-5M609.50 236.50h-5M609.50 196.38h-5M609.50 156.25h-5M609.50 116.12h-5M609.50 76.00h-5" stroke="#1a1a1a" stroke-width="1" fill="none"/>
<g font-size="10.3" fill="#111" stroke="#111" stroke-width="0.15"><text transform="translate(609.1 417.5) scale(0.92 1)" text-anchor="middle"><tspan fill="#3a5a5a" stroke="none">−</tspan>2</text><text transform="translate(662.1 417.5) scale(0.92 1)" text-anchor="middle">−1.5</text><text transform="translate(715.2 417.5) scale(0.92 1)" text-anchor="middle">−1</text><text transform="translate(768.2 417.5) scale(0.92 1)" text-anchor="middle">−0.5</text><text transform="translate(821.2 417.5) scale(0.92 1)" text-anchor="middle">0</text><text transform="translate(874.2 417.5) scale(0.92 1)" text-anchor="middle">0.5</text><text transform="translate(927.2 417.5) scale(0.92 1)" text-anchor="middle">1</text><text transform="translate(980.3 417.5) scale(0.92 1)" text-anchor="middle">1.5</text><text transform="translate(1033.3 417.5) scale(0.92 1)" text-anchor="middle">2</text><text transform="translate(598.0 400.8) scale(0.92 1)" text-anchor="end">−1</text><text transform="translate(598.0 360.7) scale(0.92 1)" text-anchor="end">−0.75</text><text transform="translate(598.0 320.6) scale(0.92 1)" text-anchor="end">−0.5</text><text transform="translate(598.0 280.4) scale(0.92 1)" text-anchor="end">−0.25</text><text transform="translate(598.0 240.3) scale(0.92 1)" text-anchor="end">0</text><text transform="translate(598.0 200.2) scale(0.92 1)" text-anchor="end">0.25</text><text transform="translate(598.0 160.1) scale(0.92 1)" text-anchor="end">0.5</text><text transform="translate(598.0 119.9) scale(0.92 1)" text-anchor="end">0.75</text><text transform="translate(598.0 79.8) scale(0.92 1)" text-anchor="end">1</text></g>
<text transform="translate(642.2 65.1) scale(0.826 1)" font-size="17.2" fill="#111" stroke="#111" stroke-width="0.25">OMIP2 Global O<tspan font-size="11.6" dy="3">2, sat</tspan><tspan dy="-3"> –</tspan><tspan dx="-2.2"> Minus AOU Relationship (0-700m)</tspan></text>
<text transform="translate(822.8 440.6) scale(0.855 1)" font-size="15.3" fill="#111" stroke="#111" stroke-width="0.25" text-anchor="middle">−AOU [mmol m<tspan font-size="10.8" dy="-5.8">−3</tspan><tspan dy="5.8">]</tspan></text>
<text transform="translate(564.2 233.9) rotate(-90) scale(0.935 1)" font-size="15.6" fill="#111" stroke="#111" stroke-width="0.2" text-anchor="middle">O<tspan font-size="10.6" dy="2.6">2, sat</tspan><tspan dy="-2.6"> [mmol m</tspan><tspan font-size="10.6" dy="-5.6">−3</tspan><tspan dy="5.6">]</tspan></text>
<text transform="translate(570.6 24.4) scale(0.975 1)" font-size="29.8" font-weight="bold" fill="#000">B</text>
<circle cx="937.6" cy="308.3" r="2.6" fill="#ff4a4a" fill-opacity="0.33"/>
<line x1="919.4" y1="323.4" x2="937.8000000000001" y2="323.4" stroke="#f00000" stroke-width="2.7"/>
<circle cx="914.1" cy="338.5" r="2.9" fill="#000" fill-opacity="0.5"/>
<line x1="919.4" y1="338.5" x2="937.8000000000001" y2="338.5" stroke="#000" stroke-width="2.5"/>
<path d="M911.3000000000001 351.0h6l-3 5.8z" fill="#000" fill-opacity="0.5"/>
<line x1="919.4" y1="353.6" x2="937.8000000000001" y2="353.6" stroke="#000" stroke-width="2.5" stroke-dasharray="3.4 3" stroke-dashoffset="2"/>
<circle cx="914.1" cy="368.7" r="2.9" fill="#cfcfcf" fill-opacity="0.5"/>
<line x1="919.4" y1="368.7" x2="937.8000000000001" y2="368.7" stroke="#c8c8c8" stroke-width="2.5"/>
<path d="M911.3000000000001 381.2h6l-3 5.8z" fill="#d8d8d8" fill-opacity="0.4"/>
<line x1="919.4" y1="383.8" x2="937.8000000000001" y2="383.8" stroke="#dcdcdc" stroke-width="2.5" stroke-dasharray="3.4 3" stroke-dashoffset="2"/>
<g font-size="11.75" fill="#111" stroke="#111" stroke-width="0.2"><text transform="translate(943.1 312.3) scale(0.862 1)">OMIP2</text><text transform="translate(943.1 327.4) scale(0.862 1)">OMIP2 MM-Mean</text><text transform="translate(943.1 342.5) scale(0.862 1)">WOD2018 ORAS4</text><text transform="translate(943.1 357.6) scale(0.862 1)">WOD2018 EN4.2.1</text><text transform="translate(943.1 372.7) scale(0.862 1)">WOD2018 Cheng</text><text transform="translate(944.2 387.8) scale(0.862 1)">WOD2018 Ishii</text></g>
<path d="M1228.5 75.5V396.5M1281.5 75.5V396.5M1334.5 75.5V396.5M1440.6 75.5V396.5M1493.6 75.5V396.5M1546.6 75.5V396.5M1599.6 75.5V396.5M1175.5 356.4H1599.6M1175.5 316.2H1599.6M1175.5 276.1H1599.6M1175.5 195.9H1599.6M1175.5 155.8H1599.6M1175.5 115.6H1599.6M1175.5 75.5H1599.6" stroke="#f9f9f9" stroke-width="0.7" fill="none"/>
<path d="M1175.49 236.00H1599.61M1387.55 75.50V396.50" stroke="#858585" stroke-width="0.9" stroke-dasharray="2.9 1.2" fill="none"/>
<rect x="1600.6" y="20.1" width="56" height="55" fill="#ffb0b0"/>
<text transform="translate(1629.4 59.7) scale(0.845 1)" font-size="34" fill="#000" text-anchor="middle">+O<tspan font-size="18.8" dy="10.2">2</tspan></text>
<rect x="1119.5" y="396.25" width="56" height="54.8" fill="#b0ffff"/>
<text transform="translate(1147.6 433.4) scale(0.845 1)" font-size="34" fill="#000" text-anchor="middle">-O<tspan font-size="18.8" dy="10.2">2</tspan></text>
<g fill="#ff30ff" fill-opacity="0.37"><circle cx="1384.4" cy="263.6" r="1.8"/><circle cx="1397.7" cy="248.5" r="1.8"/><circle cx="1372.2" cy="232.7" r="1.8"/><circle cx="1344.7" cy="299.2" r="1.8"/><circle cx="1364.1" cy="244.8" r="1.8"/><circle cx="1340.2" cy="310.1" r="1.8"/><circle cx="1387.0" cy="273.4" r="1.8"/><circle cx="1444.1" cy="238.9" r="1.8"/><circle cx="1362.4" cy="202.8" r="1.8"/><circle cx="1356.7" cy="274.7" r="1.8"/><circle cx="1406.2" cy="211.1" r="1.8"/><circle cx="1400.3" cy="225.0" r="1.8"/><circle cx="1389.1" cy="229.7" r="1.8"/><circle cx="1342.9" cy="276.4" r="1.8"/><circle cx="1383.1" cy="182.0" r="1.8"/><circle cx="1415.3" cy="241.6" r="1.8"/><circle cx="1324.5" cy="342.7" r="1.8"/><circle cx="1364.0" cy="289.0" r="1.8"/><circle cx="1299.7" cy="359.1" r="1.8"/><circle cx="1326.9" cy="270.1" r="1.8"/><circle cx="1302.4" cy="290.9" r="1.8"/><circle cx="1373.9" cy="278.1" r="1.8"/><circle cx="1327.9" cy="334.4" r="1.8"/><circle cx="1396.4" cy="238.5" r="1.8"/><circle cx="1391.3" cy="190.0" r="1.8"/><circle cx="1376.0" cy="332.8" r="1.8"/><circle cx="1272.3" cy="328.1" r="1.8"/><circle cx="1360.4" cy="294.3" r="1.8"/><circle cx="1382.2" cy="209.3" r="1.8"/><circle cx="1389.4" cy="267.1" r="1.8"/><circle cx="1316.2" cy="311.6" r="1.8"/><circle cx="1363.1" cy="304.9" r="1.8"/><circle cx="1340.8" cy="309.7" r="1.8"/><circle cx="1348.3" cy="230.5" r="1.8"/><circle cx="1431.6" cy="169.6" r="1.8"/><circle cx="1348.4" cy="285.0" r="1.8"/><circle cx="1382.9" cy="266.9" r="1.8"/><circle cx="1423.8" cy="259.8" r="1.8"/><circle cx="1358.4" cy="275.4" r="1.8"/><circle cx="1379.4" cy="244.6" r="1.8"/><circle cx="1389.3" cy="236.9" r="1.8"/><circle cx="1387.2" cy="239.2" r="1.8"/><circle cx="1329.8" cy="324.4" r="1.8"/><circle cx="1387.8" cy="237.8" r="1.8"/><circle cx="1444.9" cy="183.4" r="1.8"/><circle cx="1315.5" cy="264.3" r="1.8"/><circle cx="1422.6" cy="146.1" r="1.8"/><circle cx="1389.7" cy="238.2" r="1.8"/><circle cx="1355.8" cy="289.2" r="1.8"/><circle cx="1473.5" cy="157.4" r="1.8"/><circle cx="1418.3" cy="225.7" r="1.8"/><circle cx="1331.0" cy="311.7" r="1.8"/><circle cx="1387.7" cy="237.7" r="1.8"/><circle cx="1410.1" cy="246.7" r="1.8"/><circle cx="1376.0" cy="228.4" r="1.8"/><circle cx="1414.8" cy="213.6" r="1.8"/><circle cx="1381.4" cy="234.1" r="1.8"/><circle cx="1414.1" cy="216.7" r="1.8"/><circle cx="1448.4" cy="201.0" r="1.8"/><circle cx="1354.3" cy="296.1" r="1.8"/><circle cx="1393.4" cy="237.7" r="1.8"/><circle cx="1363.7" cy="275.1" r="1.8"/><circle cx="1390.0" cy="226.5" r="1.8"/><circle cx="1331.5" cy="288.7" r="1.8"/><circle cx="1358.6" cy="304.7" r="1.8"/><circle cx="1375.6" cy="245.1" r="1.8"/><circle cx="1424.4" cy="242.4" r="1.8"/><circle cx="1435.4" cy="209.9" r="1.8"/><circle cx="1325.4" cy="303.3" r="1.8"/><circle cx="1349.0" cy="335.5" r="1.8"/><circle cx="1413.2" cy="209.2" r="1.8"/><circle cx="1295.6" cy="317.7" r="1.8"/><circle cx="1363.7" cy="263.2" r="1.8"/><circle cx="1380.0" cy="256.0" r="1.8"/><circle cx="1440.3" cy="197.8" r="1.8"/><circle cx="1415.1" cy="240.0" r="1.8"/><circle cx="1369.8" cy="260.9" r="1.8"/><circle cx="1368.0" cy="271.2" r="1.8"/><circle cx="1373.2" cy="246.6" r="1.8"/><circle cx="1452.2" cy="212.0" r="1.8"/><circle cx="1365.3" cy="249.7" r="1.8"/><circle cx="1370.8" cy="247.3" r="1.8"/><circle cx="1400.1" cy="228.6" r="1.8"/><circle cx="1379.0" cy="257.4" r="1.8"/><circle cx="1375.6" cy="230.4" r="1.8"/><circle cx="1334.8" cy="336.3" r="1.8"/><circle cx="1383.9" cy="225.4" r="1.8"/><circle cx="1364.6" cy="250.1" r="1.8"/><circle cx="1436.3" cy="181.6" r="1.8"/><circle cx="1413.5" cy="200.0" r="1.8"/><circle cx="1383.3" cy="259.9" r="1.8"/><circle cx="1414.1" cy="219.0" r="1.8"/><circle cx="1369.2" cy="233.8" r="1.8"/><circle cx="1431.2" cy="181.9" r="1.8"/><circle cx="1384.1" cy="232.9" r="1.8"/><circle cx="1410.3" cy="260.8" r="1.8"/><circle cx="1326.9" cy="276.5" r="1.8"/><circle cx="1399.8" cy="188.8" r="1.8"/><circle cx="1309.2" cy="278.8" r="1.8"/><circle cx="1293.7" cy="316.9" r="1.8"/><circle cx="1370.8" cy="299.2" r="1.8"/><circle cx="1344.3" cy="247.9" r="1.8"/><circle cx="1391.7" cy="236.6" r="1.8"/><circle cx="1484.3" cy="222.4" r="1.8"/><circle cx="1347.3" cy="262.2" r="1.8"/><circle cx="1356.6" cy="310.6" r="1.8"/><circle cx="1393.5" cy="269.9" r="1.8"/><circle cx="1406.3" cy="237.7" r="1.8"/><circle cx="1376.5" cy="207.6" r="1.8"/><circle cx="1375.2" cy="258.9" r="1.8"/><circle cx="1415.7" cy="201.4" r="1.8"/><circle cx="1407.5" cy="164.0" r="1.8"/><circle cx="1338.3" cy="233.6" r="1.8"/><circle cx="1380.8" cy="245.4" r="1.8"/><circle cx="1385.9" cy="244.9" r="1.8"/><circle cx="1337.4" cy="321.5" r="1.8"/><circle cx="1395.9" cy="249.3" r="1.8"/><circle cx="1346.2" cy="261.9" r="1.8"/><circle cx="1427.7" cy="186.3" r="1.8"/><circle cx="1393.0" cy="227.6" r="1.8"/><circle cx="1388.3" cy="204.9" r="1.8"/><circle cx="1358.0" cy="287.2" r="1.8"/><circle cx="1379.1" cy="245.7" r="1.8"/><circle cx="1295.4" cy="300.2" r="1.8"/><circle cx="1334.0" cy="268.5" r="1.8"/><circle cx="1400.5" cy="191.2" r="1.8"/><circle cx="1289.6" cy="315.8" r="1.8"/><circle cx="1422.1" cy="213.0" r="1.8"/><circle cx="1306.6" cy="300.9" r="1.8"/><circle cx="1418.1" cy="237.9" r="1.8"/><circle cx="1346.7" cy="324.3" r="1.8"/><circle cx="1419.1" cy="188.7" r="1.8"/><circle cx="1390.2" cy="235.2" r="1.8"/><circle cx="1315.9" cy="293.8" r="1.8"/><circle cx="1440.0" cy="238.5" r="1.8"/><circle cx="1448.6" cy="189.9" r="1.8"/><circle cx="1381.4" cy="260.0" r="1.8"/><circle cx="1372.2" cy="276.8" r="1.8"/><circle cx="1377.2" cy="314.4" r="1.8"/><circle cx="1340.9" cy="290.0" r="1.8"/><circle cx="1433.3" cy="165.7" r="1.8"/><circle cx="1360.2" cy="250.1" r="1.8"/><circle cx="1382.1" cy="259.5" r="1.8"/><circle cx="1349.0" cy="272.6" r="1.8"/><circle cx="1356.5" cy="242.1" r="1.8"/><circle cx="1327.5" cy="376.6" r="1.8"/><circle cx="1440.3" cy="190.2" r="1.8"/><circle cx="1377.5" cy="228.9" r="1.8"/><circle cx="1427.4" cy="177.8" r="1.8"/><circle cx="1385.0" cy="186.6" r="1.8"/><circle cx="1353.4" cy="233.4" r="1.8"/><circle cx="1369.8" cy="243.1" r="1.8"/><circle cx="1359.4" cy="253.2" r="1.8"/><circle cx="1384.7" cy="214.7" r="1.8"/><circle cx="1367.7" cy="271.1" r="1.8"/><circle cx="1371.0" cy="252.7" r="1.8"/><circle cx="1323.0" cy="269.0" r="1.8"/><circle cx="1348.4" cy="213.0" r="1.8"/><circle cx="1458.0" cy="174.7" r="1.8"/><circle cx="1354.5" cy="268.5" r="1.8"/><circle cx="1337.4" cy="277.0" r="1.8"/><circle cx="1399.4" cy="183.9" r="1.8"/><circle cx="1447.0" cy="181.1" r="1.8"/><circle cx="1319.6" cy="254.9" r="1.8"/><circle cx="1375.1" cy="277.2" r="1.8"/><circle cx="1356.2" cy="271.1" r="1.8"/><circle cx="1305.9" cy="318.6" r="1.8"/><circle cx="1417.1" cy="184.3" r="1.8"/><circle cx="1383.3" cy="208.1" r="1.8"/><circle cx="1387.6" cy="282.0" r="1.8"/><circle cx="1350.9" cy="298.3" r="1.8"/><circle cx="1404.6" cy="209.7" r="1.8"/><circle cx="1360.4" cy="281.6" r="1.8"/><circle cx="1378.0" cy="291.4" r="1.8"/><circle cx="1335.0" cy="253.6" r="1.8"/><circle cx="1330.2" cy="274.7" r="1.8"/><circle cx="1443.8" cy="168.1" r="1.8"/><circle cx="1361.8" cy="274.7" r="1.8"/><circle cx="1397.4" cy="195.4" r="1.8"/><circle cx="1382.9" cy="247.7" r="1.8"/><circle cx="1364.7" cy="224.0" r="1.8"/><circle cx="1361.7" cy="288.0" r="1.8"/><circle cx="1412.4" cy="238.7" r="1.8"/><circle cx="1370.9" cy="245.4" r="1.8"/><circle cx="1377.6" cy="266.7" r="1.8"/><circle cx="1385.4" cy="217.5" r="1.8"/><circle cx="1436.8" cy="181.9" r="1.8"/><circle cx="1414.7" cy="238.7" r="1.8"/><circle cx="1401.4" cy="220.8" r="1.8"/><circle cx="1359.3" cy="273.3" r="1.8"/><circle cx="1322.8" cy="268.8" r="1.8"/><circle cx="1426.7" cy="218.6" r="1.8"/><circle cx="1427.4" cy="212.0" r="1.8"/><circle cx="1378.1" cy="207.9" r="1.8"/><circle cx="1408.5" cy="148.1" r="1.8"/><circle cx="1419.2" cy="145.4" r="1.8"/><circle cx="1421.4" cy="202.3" r="1.8"/><circle cx="1425.4" cy="193.8" r="1.8"/><circle cx="1364.1" cy="211.3" r="1.8"/><circle cx="1451.8" cy="179.5" r="1.8"/><circle cx="1328.9" cy="320.9" r="1.8"/><circle cx="1422.7" cy="199.4" r="1.8"/><circle cx="1406.4" cy="204.6" r="1.8"/><circle cx="1423.3" cy="227.8" r="1.8"/><circle cx="1468.0" cy="210.7" r="1.8"/><circle cx="1450.5" cy="220.8" r="1.8"/><circle cx="1333.4" cy="266.6" r="1.8"/><circle cx="1309.2" cy="332.7" r="1.8"/><circle cx="1420.7" cy="209.2" r="1.8"/><circle cx="1339.2" cy="274.9" r="1.8"/><circle cx="1383.8" cy="220.6" r="1.8"/><circle cx="1421.8" cy="214.1" r="1.8"/><circle cx="1311.2" cy="292.5" r="1.8"/><circle cx="1290.4" cy="354.3" r="1.8"/><circle cx="1395.9" cy="239.2" r="1.8"/><circle cx="1386.3" cy="268.4" r="1.8"/><circle cx="1373.4" cy="214.7" r="1.8"/><circle cx="1386.1" cy="238.2" r="1.8"/><circle cx="1346.0" cy="297.5" r="1.8"/><circle cx="1317.0" cy="313.0" r="1.8"/><circle cx="1376.9" cy="252.7" r="1.8"/><circle cx="1341.1" cy="258.2" r="1.8"/><circle cx="1311.2" cy="356.3" r="1.8"/><circle cx="1406.9" cy="249.5" r="1.8"/><circle cx="1381.6" cy="253.1" r="1.8"/><circle cx="1402.5" cy="144.8" r="1.8"/><circle cx="1340.3" cy="251.2" r="1.8"/><circle cx="1355.1" cy="269.9" r="1.8"/><circle cx="1339.9" cy="259.0" r="1.8"/><circle cx="1344.9" cy="213.3" r="1.8"/><circle cx="1393.1" cy="237.9" r="1.8"/><circle cx="1349.5" cy="282.9" r="1.8"/><circle cx="1400.2" cy="187.1" r="1.8"/><circle cx="1399.5" cy="209.7" r="1.8"/><circle cx="1322.3" cy="312.7" r="1.8"/><circle cx="1380.4" cy="190.6" r="1.8"/><circle cx="1383.7" cy="222.3" r="1.8"/><circle cx="1319.8" cy="278.7" r="1.8"/><circle cx="1363.9" cy="320.0" r="1.8"/><circle cx="1417.5" cy="188.5" r="1.8"/><circle cx="1380.7" cy="248.4" r="1.8"/><circle cx="1388.0" cy="222.4" r="1.8"/><circle cx="1371.4" cy="230.3" r="1.8"/><circle cx="1435.8" cy="201.1" r="1.8"/><circle cx="1383.4" cy="291.4" r="1.8"/><circle cx="1286.4" cy="319.7" r="1.8"/><circle cx="1353.5" cy="290.5" r="1.8"/><circle cx="1296.7" cy="331.3" r="1.8"/><circle cx="1360.8" cy="271.6" r="1.8"/><circle cx="1443.8" cy="253.7" r="1.8"/><circle cx="1386.5" cy="199.9" r="1.8"/><circle cx="1332.2" cy="280.3" r="1.8"/><circle cx="1342.5" cy="244.4" r="1.8"/><circle cx="1391.4" cy="231.7" r="1.8"/><circle cx="1386.5" cy="291.9" r="1.8"/><circle cx="1382.0" cy="268.5" r="1.8"/><circle cx="1386.1" cy="274.2" r="1.8"/><circle cx="1420.2" cy="220.6" r="1.8"/><circle cx="1409.0" cy="213.5" r="1.8"/><circle cx="1394.0" cy="291.0" r="1.8"/><circle cx="1337.9" cy="272.1" r="1.8"/><circle cx="1407.1" cy="263.7" r="1.8"/><circle cx="1353.9" cy="258.5" r="1.8"/><circle cx="1433.1" cy="196.6" r="1.8"/><circle cx="1327.8" cy="301.7" r="1.8"/><circle cx="1378.2" cy="247.0" r="1.8"/><circle cx="1384.0" cy="255.8" r="1.8"/><circle cx="1325.4" cy="313.0" r="1.8"/><circle cx="1461.1" cy="218.3" r="1.8"/><circle cx="1449.4" cy="178.9" r="1.8"/><circle cx="1363.7" cy="202.1" r="1.8"/><circle cx="1418.7" cy="146.3" r="1.8"/><circle cx="1401.2" cy="182.9" r="1.8"/><circle cx="1268.0" cy="326.7" r="1.8"/><circle cx="1395.5" cy="249.1" r="1.8"/><circle cx="1381.6" cy="197.6" r="1.8"/><circle cx="1388.1" cy="237.2" r="1.8"/><circle cx="1336.4" cy="286.1" r="1.8"/><circle cx="1372.4" cy="259.1" r="1.8"/><circle cx="1376.4" cy="243.6" r="1.8"/><circle cx="1437.3" cy="202.6" r="1.8"/><circle cx="1399.3" cy="227.6" r="1.8"/><circle cx="1384.1" cy="272.3" r="1.8"/><circle cx="1452.5" cy="186.5" r="1.8"/><circle cx="1359.6" cy="192.6" r="1.8"/><circle cx="1367.0" cy="257.4" r="1.8"/><circle cx="1303.5" cy="322.2" r="1.8"/><circle cx="1454.2" cy="157.2" r="1.8"/><circle cx="1427.3" cy="177.1" r="1.8"/><circle cx="1425.2" cy="234.6" r="1.8"/><circle cx="1414.2" cy="217.3" r="1.8"/><circle cx="1389.3" cy="206.4" r="1.8"/><circle cx="1394.0" cy="221.8" r="1.8"/><circle cx="1373.1" cy="245.8" r="1.8"/><circle cx="1375.3" cy="200.1" r="1.8"/><circle cx="1386.8" cy="257.4" r="1.8"/><circle cx="1451.7" cy="173.3" r="1.8"/><circle cx="1409.1" cy="231.6" r="1.8"/><circle cx="1381.8" cy="196.0" r="1.8"/><circle cx="1358.6" cy="322.7" r="1.8"/><circle cx="1356.1" cy="286.0" r="1.8"/><circle cx="1455.7" cy="188.1" r="1.8"/><circle cx="1406.9" cy="197.6" r="1.8"/><circle cx="1387.4" cy="217.7" r="1.8"/><circle cx="1369.0" cy="210.9" r="1.8"/><circle cx="1335.0" cy="333.3" r="1.8"/><circle cx="1381.4" cy="218.9" r="1.8"/><circle cx="1423.3" cy="211.4" r="1.8"/><circle cx="1366.9" cy="275.7" r="1.8"/><circle cx="1374.2" cy="232.0" r="1.8"/><circle cx="1374.5" cy="276.3" r="1.8"/><circle cx="1389.2" cy="297.7" r="1.8"/><circle cx="1313.4" cy="316.9" r="1.8"/><circle cx="1373.9" cy="294.5" r="1.8"/><circle cx="1346.3" cy="294.5" r="1.8"/><circle cx="1423.8" cy="190.7" r="1.8"/><circle cx="1350.1" cy="261.7" r="1.8"/><circle cx="1410.1" cy="166.5" r="1.8"/><circle cx="1452.3" cy="181.4" r="1.8"/><circle cx="1370.4" cy="298.9" r="1.8"/><circle cx="1357.6" cy="287.2" r="1.8"/><circle cx="1392.9" cy="259.0" r="1.8"/><circle cx="1384.3" cy="276.2" r="1.8"/><circle cx="1340.1" cy="267.2" r="1.8"/><circle cx="1404.9" cy="239.4" r="1.8"/><circle cx="1474.1" cy="215.0" r="1.8"/><circle cx="1372.9" cy="228.5" r="1.8"/><circle cx="1375.3" cy="250.9" r="1.8"/><circle cx="1337.8" cy="271.8" r="1.8"/><circle cx="1398.6" cy="222.4" r="1.8"/><circle cx="1328.8" cy="271.8" r="1.8"/><circle cx="1335.1" cy="284.1" r="1.8"/><circle cx="1441.4" cy="147.8" r="1.8"/><circle cx="1344.0" cy="263.9" r="1.8"/><circle cx="1432.5" cy="181.8" r="1.8"/><circle cx="1452.3" cy="162.8" r="1.8"/><circle cx="1395.9" cy="272.6" r="1.8"/><circle cx="1409.0" cy="220.9" r="1.8"/><circle cx="1471.3" cy="165.3" r="1.8"/><circle cx="1375.6" cy="240.9" r="1.8"/><circle cx="1358.0" cy="305.2" r="1.8"/><circle cx="1324.1" cy="245.7" r="1.8"/><circle cx="1386.2" cy="234.1" r="1.8"/><circle cx="1450.2" cy="214.1" r="1.8"/><circle cx="1427.1" cy="251.0" r="1.8"/><circle cx="1342.4" cy="286.9" r="1.8"/><circle cx="1346.3" cy="277.5" r="1.8"/><circle cx="1361.9" cy="282.0" r="1.8"/><circle cx="1397.4" cy="224.0" r="1.8"/><circle cx="1375.2" cy="267.1" r="1.8"/><circle cx="1393.9" cy="213.2" r="1.8"/><circle cx="1397.6" cy="248.7" r="1.8"/><circle cx="1371.1" cy="252.6" r="1.8"/><circle cx="1382.6" cy="210.8" r="1.8"/><circle cx="1393.6" cy="151.9" r="1.8"/><circle cx="1380.6" cy="273.2" r="1.8"/><circle cx="1406.8" cy="232.1" r="1.8"/><circle cx="1467.7" cy="186.4" r="1.8"/><circle cx="1410.7" cy="190.3" r="1.8"/><circle cx="1386.9" cy="271.7" r="1.8"/><circle cx="1309.3" cy="324.2" r="1.8"/><circle cx="1401.6" cy="223.7" r="1.8"/><circle cx="1297.7" cy="350.2" r="1.8"/><circle cx="1321.6" cy="327.1" r="1.8"/><circle cx="1422.4" cy="217.8" r="1.8"/><circle cx="1415.8" cy="273.5" r="1.8"/><circle cx="1377.7" cy="289.3" r="1.8"/><circle cx="1308.2" cy="323.0" r="1.8"/><circle cx="1367.8" cy="250.0" r="1.8"/><circle cx="1354.1" cy="273.0" r="1.8"/><circle cx="1412.7" cy="266.5" r="1.8"/><circle cx="1484.9" cy="158.8" r="1.8"/><circle cx="1394.0" cy="205.6" r="1.8"/><circle cx="1349.7" cy="254.6" r="1.8"/><circle cx="1332.2" cy="290.3" r="1.8"/><circle cx="1381.9" cy="268.4" r="1.8"/><circle cx="1376.5" cy="227.1" r="1.8"/><circle cx="1333.1" cy="304.8" r="1.8"/><circle cx="1389.6" cy="269.8" r="1.8"/><circle cx="1333.1" cy="311.5" r="1.8"/><circle cx="1433.9" cy="148.3" r="1.8"/><circle cx="1431.7" cy="187.9" r="1.8"/><circle cx="1432.7" cy="158.3" r="1.8"/><circle cx="1363.3" cy="273.4" r="1.8"/><circle cx="1407.3" cy="188.9" r="1.8"/><circle cx="1378.5" cy="262.8" r="1.8"/><circle cx="1367.1" cy="260.0" r="1.8"/><circle cx="1369.3" cy="177.3" r="1.8"/><circle cx="1326.5" cy="269.9" r="1.8"/><circle cx="1320.1" cy="314.6" r="1.8"/><circle cx="1419.7" cy="208.4" r="1.8"/><circle cx="1375.9" cy="237.0" r="1.8"/><circle cx="1394.0" cy="193.0" r="1.8"/><circle cx="1429.0" cy="212.0" r="1.8"/><circle cx="1307.2" cy="364.5" r="1.8"/><circle cx="1349.4" cy="280.3" r="1.8"/><circle cx="1392.2" cy="231.2" r="1.8"/><circle cx="1401.8" cy="219.3" r="1.8"/><circle cx="1367.6" cy="214.6" r="1.8"/><circle cx="1430.2" cy="186.3" r="1.8"/><circle cx="1393.7" cy="205.4" r="1.8"/><circle cx="1330.3" cy="323.3" r="1.8"/><circle cx="1342.9" cy="251.4" r="1.8"/><circle cx="1405.0" cy="196.0" r="1.8"/><circle cx="1299.8" cy="310.6" r="1.8"/><circle cx="1444.4" cy="178.0" r="1.8"/><circle cx="1411.0" cy="159.5" r="1.8"/><circle cx="1444.2" cy="211.1" r="1.8"/><circle cx="1367.3" cy="258.4" r="1.8"/><circle cx="1371.2" cy="237.3" r="1.8"/><circle cx="1334.2" cy="263.4" r="1.8"/><circle cx="1497.3" cy="146.3" r="1.8"/><circle cx="1376.6" cy="236.9" r="1.8"/><circle cx="1455.1" cy="181.1" r="1.8"/><circle cx="1355.5" cy="262.4" r="1.8"/><circle cx="1391.7" cy="236.2" r="1.8"/><circle cx="1309.9" cy="343.7" r="1.8"/><circle cx="1367.3" cy="255.6" r="1.8"/><circle cx="1428.2" cy="171.1" r="1.8"/><circle cx="1328.6" cy="320.8" r="1.8"/><circle cx="1432.1" cy="201.5" r="1.8"/><circle cx="1399.4" cy="204.6" r="1.8"/><circle cx="1337.9" cy="315.2" r="1.8"/><circle cx="1362.0" cy="254.4" r="1.8"/><circle cx="1363.9" cy="290.5" r="1.8"/><circle cx="1382.2" cy="206.5" r="1.8"/><circle cx="1360.5" cy="190.9" r="1.8"/><circle cx="1347.5" cy="211.9" r="1.8"/><circle cx="1370.8" cy="258.4" r="1.8"/><circle cx="1338.6" cy="259.3" r="1.8"/><circle cx="1326.9" cy="289.2" r="1.8"/><circle cx="1382.2" cy="237.9" r="1.8"/><circle cx="1423.7" cy="154.9" r="1.8"/><circle cx="1316.3" cy="343.1" r="1.8"/><circle cx="1384.5" cy="206.7" r="1.8"/><circle cx="1355.4" cy="267.6" r="1.8"/><circle cx="1340.9" cy="236.9" r="1.8"/><circle cx="1422.4" cy="197.6" r="1.8"/><circle cx="1361.3" cy="281.2" r="1.8"/><circle cx="1451.1" cy="167.9" r="1.8"/><circle cx="1349.6" cy="249.1" r="1.8"/><circle cx="1401.6" cy="221.7" r="1.8"/><circle cx="1374.2" cy="233.6" r="1.8"/><circle cx="1350.8" cy="286.4" r="1.8"/><circle cx="1410.5" cy="279.5" r="1.8"/><circle cx="1377.5" cy="218.0" r="1.8"/><circle cx="1411.2" cy="192.5" r="1.8"/><circle cx="1382.3" cy="236.4" r="1.8"/><circle cx="1336.0" cy="282.3" r="1.8"/><circle cx="1379.8" cy="211.6" r="1.8"/><circle cx="1386.7" cy="250.8" r="1.8"/><circle cx="1427.1" cy="220.5" r="1.8"/><circle cx="1344.0" cy="282.6" r="1.8"/><circle cx="1382.6" cy="204.4" r="1.8"/><circle cx="1307.7" cy="353.2" r="1.8"/><circle cx="1413.4" cy="175.4" r="1.8"/><circle cx="1336.2" cy="303.7" r="1.8"/><circle cx="1303.9" cy="348.0" r="1.8"/><circle cx="1381.7" cy="203.0" r="1.8"/><circle cx="1433.6" cy="195.7" r="1.8"/><circle cx="1316.5" cy="342.3" r="1.8"/><circle cx="1335.9" cy="295.4" r="1.8"/><circle cx="1351.3" cy="241.7" r="1.8"/><circle cx="1334.1" cy="249.8" r="1.8"/><circle cx="1401.3" cy="236.2" r="1.8"/><circle cx="1422.1" cy="162.8" r="1.8"/><circle cx="1439.8" cy="154.6" r="1.8"/><circle cx="1450.9" cy="166.4" r="1.8"/><circle cx="1422.1" cy="153.5" r="1.8"/><circle cx="1431.4" cy="147.0" r="1.8"/><circle cx="1420.2" cy="146.6" r="1.8"/><circle cx="1445.1" cy="148.6" r="1.8"/><circle cx="1437.6" cy="150.5" r="1.8"/><circle cx="1443.4" cy="164.6" r="1.8"/><circle cx="1433.5" cy="146.8" r="1.8"/><circle cx="1450.7" cy="164.0" r="1.8"/><circle cx="1427.6" cy="149.1" r="1.8"/><circle cx="1462.6" cy="148.9" r="1.8"/><circle cx="1465.2" cy="154.6" r="1.8"/><circle cx="1442.9" cy="156.9" r="1.8"/><circle cx="1441.6" cy="164.1" r="1.8"/><circle cx="1460.4" cy="156.9" r="1.8"/><circle cx="1433.2" cy="162.1" r="1.8"/><circle cx="1457.7" cy="165.8" r="1.8"/><circle cx="1433.1" cy="165.7" r="1.8"/><circle cx="1453.7" cy="150.6" r="1.8"/><circle cx="1435.3" cy="147.9" r="1.8"/><circle cx="1448.1" cy="165.4" r="1.8"/><circle cx="1463.5" cy="168.3" r="1.8"/><circle cx="1422.0" cy="162.7" r="1.8"/><circle cx="1457.9" cy="165.6" r="1.8"/><circle cx="1445.2" cy="164.4" r="1.8"/><circle cx="1437.4" cy="155.5" r="1.8"/><circle cx="1436.1" cy="159.1" r="1.8"/><circle cx="1422.7" cy="158.9" r="1.8"/><circle cx="1465.3" cy="156.1" r="1.8"/><circle cx="1497.0" cy="194.7" r="1.8"/><circle cx="1471.1" cy="183.8" r="1.8"/><circle cx="1478.7" cy="157.4" r="1.8"/><circle cx="1483.1" cy="195.3" r="1.8"/><circle cx="1513.5" cy="189.4" r="1.8"/><circle cx="1468.1" cy="187.3" r="1.8"/><circle cx="1500.7" cy="192.4" r="1.8"/><circle cx="1472.5" cy="176.9" r="1.8"/><circle cx="1512.8" cy="172.1" r="1.8"/><circle cx="1478.3" cy="183.1" r="1.8"/><circle cx="1486.0" cy="191.5" r="1.8"/><circle cx="1511.6" cy="163.3" r="1.8"/><circle cx="1497.5" cy="163.6" r="1.8"/><circle cx="1457.7" cy="173.3" r="1.8"/><circle cx="1460.6" cy="190.3" r="1.8"/><circle cx="1260.6" cy="311.4" r="1.8"/><circle cx="1266.6" cy="323.3" r="1.8"/><circle cx="1252.7" cy="323.7" r="1.8"/><circle cx="1282.7" cy="309.1" r="1.8"/><circle cx="1250.1" cy="333.3" r="1.8"/><circle cx="1258.4" cy="314.7" r="1.8"/><circle cx="1231.1" cy="311.5" r="1.8"/><circle cx="1262.0" cy="319.6" r="1.8"/><circle cx="1276.0" cy="305.3" r="1.8"/><circle cx="1273.6" cy="321.5" r="1.8"/><circle cx="1240.9" cy="321.7" r="1.8"/><circle cx="1291.6" cy="328.9" r="1.8"/><circle cx="1328.1" cy="333.9" r="1.8"/><circle cx="1280.2" cy="387.7" r="1.8"/><circle cx="1310.3" cy="351.8" r="1.8"/><circle cx="1287.6" cy="325.4" r="1.8"/><circle cx="1329.4" cy="360.7" r="1.8"/><circle cx="1330.4" cy="339.8" r="1.8"/><circle cx="1257.4" cy="385.1" r="1.8"/><circle cx="1334.1" cy="332.8" r="1.8"/><circle cx="1303.1" cy="352.4" r="1.8"/><circle cx="1260.9" cy="331.8" r="1.8"/><circle cx="1294.5" cy="338.6" r="1.8"/><circle cx="1258.9" cy="333.1" r="1.8"/><circle cx="1298.7" cy="387.8" r="1.8"/><circle cx="1269.8" cy="343.5" r="1.8"/><circle cx="1284.3" cy="378.4" r="1.8"/><circle cx="1279.2" cy="373.8" r="1.8"/><circle cx="1302.9" cy="369.8" r="1.8"/><circle cx="1320.4" cy="351.8" r="1.8"/><circle cx="1329.5" cy="349.4" r="1.8"/><circle cx="1281.2" cy="328.9" r="1.8"/><circle cx="1300.3" cy="390.8" r="1.8"/><circle cx="1255.5" cy="378.6" r="1.8"/><circle cx="1284.6" cy="367.3" r="1.8"/><circle cx="1331.4" cy="336.5" r="1.8"/><circle cx="1264.5" cy="354.6" r="1.8"/><circle cx="1324.2" cy="357.2" r="1.8"/><circle cx="1306.9" cy="340.4" r="1.8"/><circle cx="1278.4" cy="347.5" r="1.8"/><circle cx="1316.9" cy="372.1" r="1.8"/><circle cx="1278.0" cy="385.8" r="1.8"/><circle cx="1326.2" cy="360.5" r="1.8"/><circle cx="1261.6" cy="332.4" r="1.8"/><circle cx="1264.5" cy="351.4" r="1.8"/><circle cx="1314.7" cy="388.1" r="1.8"/><circle cx="1290.7" cy="362.0" r="1.8"/><circle cx="1266.7" cy="365.8" r="1.8"/><circle cx="1295.8" cy="352.4" r="1.8"/><circle cx="1278.6" cy="352.1" r="1.8"/><circle cx="1298.7" cy="327.6" r="1.8"/><circle cx="1314.2" cy="368.9" r="1.8"/><circle cx="1375.6" cy="302.8" r="1.8"/><circle cx="1396.3" cy="325.6" r="1.8"/><circle cx="1423.8" cy="267.1" r="1.8"/><circle cx="1405.7" cy="348.2" r="1.8"/><circle cx="1382.0" cy="336.5" r="1.8"/><circle cx="1416.6" cy="348.3" r="1.8"/><circle cx="1383.4" cy="287.8" r="1.8"/><circle cx="1431.6" cy="328.1" r="1.8"/><circle cx="1363.0" cy="269.7" r="1.8"/><circle cx="1347.4" cy="270.3" r="1.8"/><circle cx="1418.2" cy="266.2" r="1.8"/><circle cx="1364.5" cy="331.7" r="1.8"/><circle cx="1419.9" cy="356.3" r="1.8"/><circle cx="1395.9" cy="319.0" r="1.8"/><circle cx="1385.8" cy="263.7" r="1.8"/><circle cx="1343.3" cy="282.8" r="1.8"/><circle cx="1413.7" cy="350.6" r="1.8"/><circle cx="1341.2" cy="288.7" r="1.8"/><circle cx="1431.8" cy="268.1" r="1.8"/><circle cx="1422.9" cy="263.2" r="1.8"/><circle cx="1365.1" cy="287.4" r="1.8"/><circle cx="1347.4" cy="273.3" r="1.8"/><circle cx="1423.7" cy="275.3" r="1.8"/><circle cx="1382.9" cy="321.9" r="1.8"/><circle cx="1347.1" cy="346.8" r="1.8"/><circle cx="1384.8" cy="286.3" r="1.8"/><circle cx="1359.4" cy="343.2" r="1.8"/><circle cx="1375.6" cy="319.4" r="1.8"/><circle cx="1399.0" cy="260.5" r="1.8"/><circle cx="1426.7" cy="302.5" r="1.8"/><circle cx="1415.2" cy="306.1" r="1.8"/><circle cx="1350.8" cy="265.1" r="1.8"/><circle cx="1382.6" cy="329.0" r="1.8"/><circle cx="1384.1" cy="260.1" r="1.8"/><circle cx="1434.2" cy="268.6" r="1.8"/><circle cx="1343.3" cy="321.3" r="1.8"/><circle cx="1386.0" cy="324.9" r="1.8"/><circle cx="1426.6" cy="344.2" r="1.8"/><circle cx="1374.7" cy="268.2" r="1.8"/><circle cx="1360.9" cy="338.5" r="1.8"/><circle cx="1335.1" cy="209.4" r="1.8"/><circle cx="1391.2" cy="195.1" r="1.8"/><circle cx="1372.6" cy="198.2" r="1.8"/><circle cx="1377.3" cy="204.0" r="1.8"/><circle cx="1381.2" cy="189.9" r="1.8"/><circle cx="1337.2" cy="241.1" r="1.8"/><circle cx="1340.4" cy="219.8" r="1.8"/><circle cx="1366.3" cy="228.9" r="1.8"/><circle cx="1337.7" cy="231.5" r="1.8"/><circle cx="1366.6" cy="207.3" r="1.8"/><circle cx="1381.4" cy="224.1" r="1.8"/><circle cx="1376.4" cy="234.0" r="1.8"/><circle cx="1373.8" cy="197.9" r="1.8"/><circle cx="1337.5" cy="216.2" r="1.8"/><circle cx="1349.6" cy="217.1" r="1.8"/><circle cx="1391.6" cy="212.5" r="1.8"/><circle cx="1342.4" cy="221.3" r="1.8"/><circle cx="1368.5" cy="237.0" r="1.8"/><circle cx="1337.7" cy="223.6" r="1.8"/><circle cx="1394.3" cy="198.0" r="1.8"/><circle cx="1345.4" cy="221.8" r="1.8"/><circle cx="1360.6" cy="222.5" r="1.8"/><circle cx="1369.3" cy="229.3" r="1.8"/><circle cx="1380.3" cy="197.8" r="1.8"/><circle cx="1394.2" cy="203.8" r="1.8"/><circle cx="1381.4" cy="196.2" r="1.8"/><circle cx="1356.6" cy="228.9" r="1.8"/><circle cx="1339.3" cy="252.2" r="1.8"/><circle cx="1379.5" cy="207.6" r="1.8"/><circle cx="1396.4" cy="194.5" r="1.8"/><circle cx="1335.6" cy="211.4" r="1.8"/><circle cx="1383.8" cy="187.6" r="1.8"/><circle cx="1345.7" cy="250.4" r="1.8"/><circle cx="1363.8" cy="204.1" r="1.8"/><circle cx="1367.8" cy="228.2" r="1.8"/><circle cx="1373.6" cy="202.8" r="1.8"/><circle cx="1397.5" cy="206.4" r="1.8"/><circle cx="1378.3" cy="219.6" r="1.8"/><circle cx="1359.5" cy="221.0" r="1.8"/><circle cx="1380.0" cy="207.9" r="1.8"/><circle cx="1364.2" cy="207.9" r="1.8"/><circle cx="1360.8" cy="212.6" r="1.8"/><circle cx="1357.8" cy="212.1" r="1.8"/><circle cx="1365.9" cy="222.9" r="1.8"/><circle cx="1352.4" cy="215.0" r="1.8"/><circle cx="1349.9" cy="233.4" r="1.8"/><circle cx="1344.0" cy="223.1" r="1.8"/><circle cx="1362.5" cy="220.8" r="1.8"/><circle cx="1353.2" cy="220.5" r="1.8"/><circle cx="1387.8" cy="230.2" r="1.8"/><circle cx="1388.5" cy="205.1" r="1.8"/><circle cx="1356.4" cy="236.4" r="1.8"/><circle cx="1373.9" cy="218.6" r="1.8"/><circle cx="1391.9" cy="225.1" r="1.8"/><circle cx="1357.4" cy="213.4" r="1.8"/><circle cx="1369.8" cy="194.7" r="1.8"/><circle cx="1362.8" cy="226.1" r="1.8"/><circle cx="1375.9" cy="232.0" r="1.8"/><circle cx="1395.6" cy="195.1" r="1.8"/><circle cx="1343.4" cy="248.1" r="1.8"/></g>
<g fill="#000" fill-opacity="0.5"><circle cx="1384.4" cy="163.9" r="3.4"/><circle cx="1359.2" cy="172.2" r="3.4"/><circle cx="1357.5" cy="190.4" r="3.4"/><circle cx="1358.5" cy="198.7" r="3.4"/><circle cx="1345.9" cy="205.0" r="3.4"/><circle cx="1331.0" cy="221.3" r="3.4"/><circle cx="1315.2" cy="233.2" r="3.4"/><circle cx="1329.0" cy="231.9" r="3.4"/><circle cx="1302.1" cy="236.5" r="3.4"/><circle cx="1292.5" cy="242.0" r="3.4"/><circle cx="1293.3" cy="248.5" r="3.4"/><circle cx="1388.1" cy="247.3" r="3.4"/><circle cx="1393.1" cy="186.1" r="3.4"/><circle cx="1417.6" cy="168.5" r="3.4"/><circle cx="1413.8" cy="174.8" r="3.4"/><circle cx="1387.5" cy="184.8" r="3.4"/><circle cx="1393.7" cy="186.1" r="3.4"/><circle cx="1394.9" cy="191.1" r="3.4"/><circle cx="1400.0" cy="195.4" r="3.4"/><circle cx="1382.4" cy="205.0" r="3.4"/><circle cx="1393.7" cy="205.5" r="3.4"/><circle cx="1418.9" cy="197.4" r="3.4"/><circle cx="1421.9" cy="204.5" r="3.4"/><circle cx="1436.0" cy="202.5" r="3.4"/><circle cx="1424.4" cy="215.0" r="3.4"/><circle cx="1421.9" cy="233.2" r="3.4"/><circle cx="1363.6" cy="228.9" r="3.4"/><circle cx="1407.5" cy="246.5" r="3.4"/><circle cx="1418.9" cy="245.3" r="3.4"/><circle cx="1416.8" cy="261.4" r="3.4"/><circle cx="1334.1" cy="257.6" r="3.4"/><circle cx="1349.4" cy="273.0" r="3.4"/><circle cx="1334.8" cy="286.1" r="3.4"/><circle cx="1308.4" cy="295.4" r="3.4"/><circle cx="1318.5" cy="299.9" r="3.4"/><circle cx="1327.8" cy="299.2" r="3.4"/><circle cx="1337.1" cy="299.4" r="3.4"/><circle cx="1307.1" cy="300.7" r="3.4"/><circle cx="1310.6" cy="306.2" r="3.4"/><circle cx="1303.3" cy="318.8" r="3.4"/><circle cx="1298.3" cy="326.4" r="3.4"/><circle cx="1300.8" cy="328.9" r="3.4"/><circle cx="1308.4" cy="340.7" r="3.4"/><circle cx="1388.9" cy="179.5" r="3.4"/><circle cx="1391.9" cy="182.5" r="3.4"/><circle cx="1311.0" cy="304.5" r="3.4"/><circle cx="1301.0" cy="327.5" r="3.4"/></g>
<path d="M1267.6 211.9h6.9l-3.45 6.4zM1278.4 203.1h6.9l-3.45 6.4zM1304.1 205.4h6.9l-3.45 6.4zM1284.0 231.8h6.9l-3.45 6.4zM1320.5 223.0h6.9l-3.45 6.4zM1331.8 225.0h6.9l-3.45 6.4zM1345.2 225.0h6.9l-3.45 6.4zM1360.0 225.5h6.9l-3.45 6.4zM1314.2 234.6h6.9l-3.45 6.4zM1321.8 242.7h6.9l-3.45 6.4zM1355.7 201.6h6.9l-3.45 6.4zM1360.0 177.2h6.9l-3.45 6.4zM1368.6 177.2h6.9l-3.45 6.4zM1364.3 181.7h6.9l-3.45 6.4zM1367.1 156.3h6.9l-3.45 6.4zM1371.6 211.9h6.9l-3.45 6.4zM1378.4 201.1h6.9l-3.45 6.4zM1380.9 172.2h6.9l-3.45 6.4zM1402.9 186.0h6.9l-3.45 6.4zM1377.7 199.9h6.9l-3.45 6.4zM1371.4 211.9h6.9l-3.45 6.4zM1407.9 209.9h6.9l-3.45 6.4zM1409.9 217.0h6.9l-3.45 6.4zM1416.7 221.3h6.9l-3.45 6.4zM1424.8 212.4h6.9l-3.45 6.4zM1434.3 209.4h6.9l-3.45 6.4zM1440.1 203.6h6.9l-3.45 6.4zM1449.5 225.0h6.9l-3.45 6.4zM1397.3 232.6h6.9l-3.45 6.4zM1390.3 247.7h6.9l-3.45 6.4zM1350.0 277.2h6.9l-3.45 6.4zM1300.9 288.0h6.9l-3.45 6.4zM1311.7 293.6h6.9l-3.45 6.4zM1335.6 289.8h6.9l-3.45 6.4zM1331.8 292.8h6.9l-3.45 6.4zM1328.0 303.1h6.9l-3.45 6.4zM1308.4 308.2h6.9l-3.45 6.4zM1295.3 311.2h6.9l-3.45 6.4zM1297.3 328.8h6.9l-3.45 6.4zM1310.4 347.7h6.9l-3.45 6.4zM1389.7 246.9h6.9l-3.45 6.4zM1374.5 196.9h6.9l-3.45 6.4zM1382.5 204.9h6.9l-3.45 6.4zM1392.5 196.9h6.9l-3.45 6.4z" fill="#000" fill-opacity="0.5"/>
<g fill="#d3d3d3" fill-opacity="0.5"><circle cx="1355.5" cy="155.1" r="3.4"/><circle cx="1366.8" cy="154.6" r="3.4"/><circle cx="1373.1" cy="157.1" r="3.4"/><circle cx="1366.0" cy="163.9" r="3.4"/><circle cx="1358.0" cy="169.7" r="3.4"/><circle cx="1381.9" cy="169.0" r="3.4"/><circle cx="1350.4" cy="182.8" r="3.4"/><circle cx="1337.1" cy="190.4" r="3.4"/><circle cx="1370.6" cy="191.1" r="3.4"/><circle cx="1372.3" cy="195.4" r="3.4"/><circle cx="1319.0" cy="226.9" r="3.4"/><circle cx="1407.5" cy="179.3" r="3.4"/><circle cx="1422.6" cy="187.3" r="3.4"/><circle cx="1398.7" cy="187.3" r="3.4"/><circle cx="1383.7" cy="193.6" r="3.4"/><circle cx="1428.9" cy="189.9" r="3.4"/><circle cx="1450.3" cy="222.6" r="3.4"/><circle cx="1295.0" cy="252.1" r="3.4"/><circle cx="1313.4" cy="253.4" r="3.4"/><circle cx="1308.9" cy="264.7" r="3.4"/><circle cx="1337.8" cy="267.2" r="3.4"/><circle cx="1345.9" cy="277.3" r="3.4"/><circle cx="1366.8" cy="300.7" r="3.4"/><circle cx="1344.1" cy="300.7" r="3.4"/><circle cx="1344.1" cy="311.8" r="3.4"/><circle cx="1318.2" cy="311.8" r="3.4"/><circle cx="1329.8" cy="319.3" r="3.4"/><circle cx="1343.4" cy="325.1" r="3.4"/><circle cx="1323.2" cy="328.1" r="3.4"/><circle cx="1325.3" cy="330.7" r="3.4"/><circle cx="1315.2" cy="339.7" r="3.4"/><circle cx="1316.4" cy="342.7" r="3.4"/><circle cx="1314.4" cy="353.6" r="3.4"/><circle cx="1326.5" cy="371.6" r="3.4"/><circle cx="1376.0" cy="177.5" r="3.4"/><circle cx="1362.0" cy="199.5" r="3.4"/><circle cx="1378.0" cy="185.5" r="3.4"/><circle cx="1391.9" cy="195.5" r="3.4"/><circle cx="1403.9" cy="204.5" r="3.4"/><circle cx="1411.9" cy="199.5" r="3.4"/><circle cx="1368.0" cy="211.5" r="3.4"/><circle cx="1356.0" cy="217.5" r="3.4"/><circle cx="1342.0" cy="237.5" r="3.4"/><circle cx="1334.0" cy="245.5" r="3.4"/><circle cx="1401.9" cy="171.5" r="3.4"/><circle cx="1389.9" cy="159.5" r="3.4"/></g>
<path d="M1375.9 181.7h6.9l-3.45 6.4zM1297.8 282.2h6.9l-3.45 6.4zM1321.8 291.0h6.9l-3.45 6.4zM1328.0 284.7h6.9l-3.45 6.4zM1335.6 262.1h6.9l-3.45 6.4zM1355.7 286.0h6.9l-3.45 6.4zM1295.3 309.9h6.9l-3.45 6.4zM1376.4 181.7h6.9l-3.45 6.4zM1428.0 217.5h6.9l-3.45 6.4zM1356.5 284.9h6.9l-3.45 6.4zM1339.5 236.9h6.9l-3.45 6.4zM1352.5 232.9h6.9l-3.45 6.4zM1362.5 218.9h6.9l-3.45 6.4zM1370.5 202.9h6.9l-3.45 6.4zM1384.5 211.9h6.9l-3.45 6.4zM1394.5 218.9h6.9l-3.45 6.4zM1404.5 226.9h6.9l-3.45 6.4zM1412.5 210.9h6.9l-3.45 6.4zM1420.5 218.9h6.9l-3.45 6.4zM1428.5 224.9h6.9l-3.45 6.4zM1436.5 228.9h6.9l-3.45 6.4zM1377.5 188.9h6.9l-3.45 6.4zM1367.5 196.9h6.9l-3.45 6.4zM1346.5 246.9h6.9l-3.45 6.4zM1332.5 258.9h6.9l-3.45 6.4zM1322.5 268.9h6.9l-3.45 6.4zM1314.5 278.9h6.9l-3.45 6.4zM1306.5 288.9h6.9l-3.45 6.4zM1302.5 296.9h6.9l-3.45 6.4zM1358.5 242.9h6.9l-3.45 6.4zM1368.5 234.9h6.9l-3.45 6.4zM1380.5 222.9h6.9l-3.45 6.4zM1390.5 208.9h6.9l-3.45 6.4zM1400.5 192.9h6.9l-3.45 6.4zM1408.5 182.9h6.9l-3.45 6.4zM1442.5 211.9h6.9l-3.45 6.4z" fill="#dcdcdc" fill-opacity="0.4"/>
<line x1="1295.0" y1="306.2" x2="1430.7" y2="157.1" stroke="#c8c8c8" stroke-width="1.6" stroke-linecap="butt"/>
<line x1="1292.0" y1="273.5" x2="1302.7" y2="266.8" stroke="#dedede" stroke-width="1.6" stroke-dasharray="2 1.7" stroke-linecap="butt"/>
<line x1="1302.7" y1="266.8" x2="1329.2" y2="250.2" stroke="#dedede" stroke-width="1.6" stroke-dasharray="4 1.2" stroke-linecap="butt"/>
<line x1="1329.2" y1="250.2" x2="1419.4" y2="193.7" stroke="#dedede" stroke-width="1.6" stroke-linecap="butt"/>
<line x1="1419.4" y1="193.7" x2="1440.4" y2="180.5" stroke="#dedede" stroke-width="1.6" stroke-dasharray="2 1.7" stroke-linecap="butt"/>
<line x1="1292.5" y1="284.8" x2="1436.0" y2="179.8" stroke="#000" stroke-width="1.7" stroke-linecap="butt"/>
<line x1="1272.4" y1="283.1" x2="1300.6" y2="267.5" stroke="#000" stroke-width="1.7" stroke-dasharray="2 1.7" stroke-linecap="butt"/>
<line x1="1300.6" y1="267.5" x2="1326.1" y2="253.4" stroke="#000" stroke-width="1.7" stroke-dasharray="4 1.2" stroke-linecap="butt"/>
<line x1="1326.1" y1="253.4" x2="1419.4" y2="201.7" stroke="#000" stroke-width="1.7" stroke-linecap="butt"/>
<line x1="1419.4" y1="201.7" x2="1451.1" y2="184.1" stroke="#000" stroke-width="1.7" stroke-dasharray="2 1.7" stroke-linecap="butt"/>
<line x1="1302.5" y1="340.3" x2="1445.2" y2="164.7" stroke="#ee00ee" stroke-width="2.9" stroke-linecap="butt"/>
<path d="M1186.09 396.50v2.3M1196.70 396.50v2.3M1207.30 396.50v2.3M1217.90 396.50v2.3M1239.11 396.50v2.3M1249.71 396.50v2.3M1260.31 396.50v2.3M1270.92 396.50v2.3M1292.12 396.50v2.3M1302.73 396.50v2.3M1313.33 396.50v2.3M1323.93 396.50v2.3M1345.14 396.50v2.3M1355.74 396.50v2.3M1366.34 396.50v2.3M1376.95 396.50v2.3M1398.15 396.50v2.3M1408.76 396.50v2.3M1419.36 396.50v2.3M1429.96 396.50v2.3M1451.17 396.50v2.3M1461.77 396.50v2.3M1472.37 396.50v2.3M1482.98 396.50v2.3M1504.18 396.50v2.3M1514.79 396.50v2.3M1525.39 396.50v2.3M1535.99 396.50v2.3M1557.20 396.50v2.3M1567.80 396.50v2.3M1578.40 396.50v2.3M1589.01 396.50v2.3M1175.49 386.47h-2.3M1175.49 376.44h-2.3M1175.49 366.41h-2.3M1175.49 346.34h-2.3M1175.49 336.31h-2.3M1175.49 326.28h-2.3M1175.49 306.22h-2.3M1175.49 296.19h-2.3M1175.49 286.16h-2.3M1175.49 266.09h-2.3M1175.49 256.06h-2.3M1175.49 246.03h-2.3M1175.49 225.97h-2.3M1175.49 215.94h-2.3M1175.49 205.91h-2.3M1175.49 185.84h-2.3M1175.49 175.81h-2.3M1175.49 165.78h-2.3M1175.49 145.72h-2.3M1175.49 135.69h-2.3M1175.49 125.66h-2.3M1175.49 105.59h-2.3M1175.49 95.56h-2.3M1175.49 85.53h-2.3" stroke="#555" stroke-width="0.7" fill="none"/>
<path d="M1175.49 75.00V396.50H1600.11M1175.49 396.50v5.2M1228.50 396.50v5.2M1281.52 396.50v5.2M1334.53 396.50v5.2M1387.55 396.50v5.2M1440.57 396.50v5.2M1493.58 396.50v5.2M1546.60 396.50v5.2M1599.61 396.50v5.2M1175.49 396.50h-5M1175.49 356.38h-5M1175.49 316.25h-5M1175.49 276.12h-5M1175.49 236.00h-5M1175.49 195.88h-5M1175.49 155.75h-5M1175.49 115.62h-5M1175.49 75.50h-5" stroke="#1a1a1a" stroke-width="1" fill="none"/>
<g font-size="10.3" fill="#111" stroke="#111" stroke-width="0.15"><text transform="translate(1175.3 417.0) scale(0.92 1)" text-anchor="middle"><tspan fill="#4a7070" stroke="none">−</tspan>2</text><text transform="translate(1228.3 417.0) scale(0.92 1)" text-anchor="middle">−1.5</text><text transform="translate(1281.3 417.0) scale(0.92 1)" text-anchor="middle">−1</text><text transform="translate(1334.3 417.0) scale(0.92 1)" text-anchor="middle">−0.5</text><text transform="translate(1387.3 417.0) scale(0.92 1)" text-anchor="middle">0</text><text transform="translate(1440.4 417.0) scale(0.92 1)" text-anchor="middle">0.5</text><text transform="translate(1493.4 417.0) scale(0.92 1)" text-anchor="middle">1</text><text transform="translate(1546.4 417.0) scale(0.92 1)" text-anchor="middle">1.5</text><text transform="translate(1599.4 417.0) scale(0.92 1)" text-anchor="middle">2</text><text transform="translate(1164.0 400.3) scale(0.92 1)" text-anchor="end">−1</text><text transform="translate(1164.0 360.2) scale(0.92 1)" text-anchor="end">−0.75</text><text transform="translate(1164.0 320.1) scale(0.92 1)" text-anchor="end">−0.5</text><text transform="translate(1164.0 279.9) scale(0.92 1)" text-anchor="end">−0.25</text><text transform="translate(1164.0 239.8) scale(0.92 1)" text-anchor="end">0</text><text transform="translate(1164.0 199.7) scale(0.92 1)" text-anchor="end">0.25</text><text transform="translate(1164.0 159.6) scale(0.92 1)" text-anchor="end">0.5</text><text transform="translate(1164.0 119.4) scale(0.92 1)" text-anchor="end">0.75</text><text transform="translate(1164.0 79.3) scale(0.92 1)" text-anchor="end">1</text></g>
<text transform="translate(1177.5 65.0) scale(0.826 1)" font-size="17.2" fill="#111" stroke="#111" stroke-width="0.25">CMIP6 Historical Global O<tspan font-size="11.6" dy="3">2, sat</tspan><tspan dy="-3"> –</tspan><tspan dx="-2.2"> Minus AOU Relationship (0-700m)</tspan></text>
<text transform="translate(1388.8 440.1) scale(0.855 1)" font-size="15.3" fill="#111" stroke="#111" stroke-width="0.25" text-anchor="middle">−AOU [mmol m<tspan font-size="10.8" dy="-5.8">−3</tspan><tspan dy="5.8">]</tspan></text>
<text transform="translate(1130.2 233.4) rotate(-90) scale(0.935 1)" font-size="15.6" fill="#111" stroke="#111" stroke-width="0.2" text-anchor="middle">O<tspan font-size="10.6" dy="2.6">2, sat</tspan><tspan dy="-2.6"> [mmol m</tspan><tspan font-size="10.6" dy="-5.6">−3</tspan><tspan dy="5.6">]</tspan></text>
<text transform="translate(1115.9 24.6) scale(1.03 1)" font-size="29.8" font-weight="bold" fill="#000">C</text>
<circle cx="1470.5" cy="307.9" r="2.6" fill="#ff30ff" fill-opacity="0.33"/>
<line x1="1452.3" y1="323.0" x2="1470.7" y2="323.0" stroke="#ee00ee" stroke-width="2.7"/>
<circle cx="1447" cy="338.1" r="2.9" fill="#000" fill-opacity="0.5"/>
<line x1="1452.3" y1="338.1" x2="1470.7" y2="338.1" stroke="#000" stroke-width="2.5"/>
<path d="M1444.2 350.6h6l-3 5.8z" fill="#000" fill-opacity="0.5"/>
<line x1="1452.3" y1="353.2" x2="1470.7" y2="353.2" stroke="#000" stroke-width="2.5" stroke-dasharray="3.4 3" stroke-dashoffset="2"/>
<circle cx="1447" cy="368.3" r="2.9" fill="#cfcfcf" fill-opacity="0.5"/>
<line x1="1452.3" y1="368.3" x2="1470.7" y2="368.3" stroke="#c8c8c8" stroke-width="2.5"/>
<path d="M1444.2 380.8h6l-3 5.8z" fill="#d8d8d8" fill-opacity="0.4"/>
<line x1="1452.3" y1="383.4" x2="1470.7" y2="383.4" stroke="#dcdcdc" stroke-width="2.5" stroke-dasharray="3.4 3" stroke-dashoffset="2"/>
<g font-size="11.75" fill="#111" stroke="#111" stroke-width="0.2"><text transform="translate(1476 311.9) scale(0.862 1)">CMIP6 Historical</text><text transform="translate(1476 327.0) scale(0.862 1)">CMIP6 Historical MM-Mean</text><text transform="translate(1476 342.1) scale(0.862 1)">WOD2018 ORAS4</text><text transform="translate(1476 357.2) scale(0.862 1)">WOD2018 EN4.2.1</text><text transform="translate(1476 372.3) scale(0.862 1)">WOD2018 Cheng</text><text transform="translate(1477.1 387.4) scale(0.862 1)">WOD2018 Ishii</text></g>
</svg>
</body>
</html>
